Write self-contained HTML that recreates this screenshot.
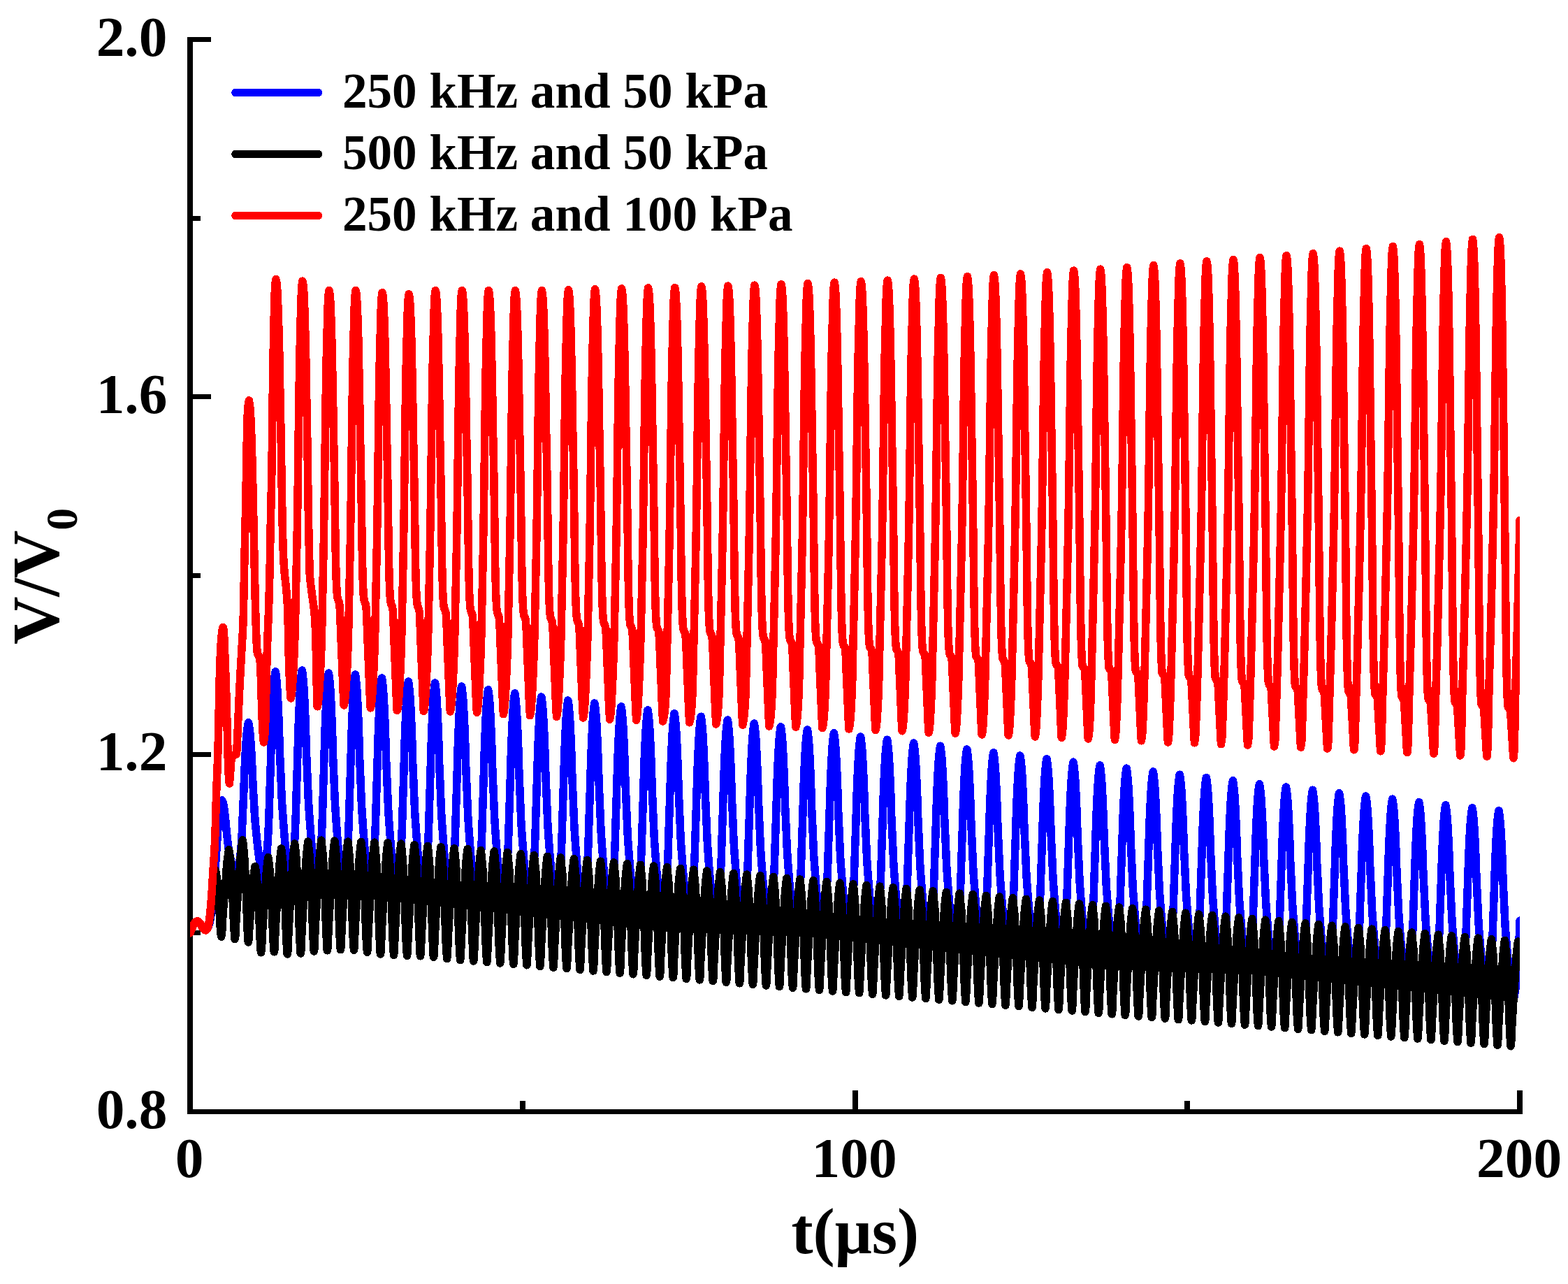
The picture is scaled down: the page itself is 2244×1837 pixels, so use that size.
<!DOCTYPE html>
<html lang="en"><head><meta charset="utf-8"><title>V/V0 vs t</title>
<style>
html,body{margin:0;padding:0;background:#fff;}
body{width:2244px;height:1837px;overflow:hidden;}
svg{display:block;}
text{font-family:"Liberation Serif",serif;font-weight:bold;fill:#000;}
.tick{font-size:81.4px;}
.leg{font-size:71.2px;}
.ttl{font-size:93.5px;}
.yttl{font-size:94.8px;}
</style></head><body>
<svg width="2244" height="1837" viewBox="0 0 2244 1837">
<rect width="2244" height="1837" fill="#fff"/>
<g fill="#000" shape-rendering="crispEdges">
<rect x="268" y="53" width="8" height="1541"/>
<rect x="268" y="1587" width="1911" height="7"/>
<rect x="276" y="1587.0" width="26" height="7"/>
<rect x="276" y="1331.3" width="11" height="7"/>
<rect x="276" y="1075.7" width="26" height="7"/>
<rect x="276" y="820.0" width="11" height="7"/>
<rect x="276" y="564.3" width="26" height="7"/>
<rect x="276" y="308.7" width="11" height="7"/>
<rect x="276" y="53.0" width="26" height="7"/>
<rect x="268.0" y="1560.0" width="8" height="27"/>
<rect x="743.8" y="1575.0" width="8" height="12"/>
<rect x="1219.5" y="1560.0" width="8" height="27"/>
<rect x="1695.2" y="1575.0" width="8" height="12"/>
<rect x="2171.0" y="1560.0" width="8" height="27"/>
</g>
<defs><clipPath id="plotclip"><rect x="272" y="56.5" width="1903" height="1534"/></clipPath></defs>
<g clip-path="url(#plotclip)" fill="none" stroke-width="11.5" stroke-linejoin="round" stroke-linecap="round" shape-rendering="crispEdges">
<polyline stroke="#0000ff" points="272.00,1334.8 272.95,1332.6 273.90,1330.4 274.85,1328.3 275.81,1326.1 276.76,1323.7 277.71,1321.7 278.66,1320.3 279.61,1319.3 280.56,1318.5 281.51,1318.0 282.47,1317.8 283.42,1318.1 284.37,1318.9 285.32,1319.8 286.27,1320.8 287.22,1322.4 288.18,1324.3 289.13,1326.2 290.08,1327.6 291.03,1328.7 291.98,1329.7 292.93,1330.5 293.88,1330.9 294.84,1330.9 295.79,1330.0 296.74,1328.7 297.69,1327.2 298.64,1324.9 299.59,1321.7 300.55,1317.8 301.50,1312.3 302.45,1305.0 303.40,1296.9 304.35,1288.0 305.30,1278.0 306.25,1267.1 307.21,1255.4 308.16,1242.3 309.11,1228.1 310.06,1214.1 311.01,1199.6 311.96,1185.2 312.91,1172.9 313.87,1163.1 314.82,1154.9 315.77,1149.9 316.72,1146.6 317.80,1145.0 318.62,1146.7 319.57,1150.1 320.53,1154.7 321.48,1161.6 322.43,1169.6 323.38,1180.0 324.33,1191.0 325.28,1198.3 326.24,1207.7 327.19,1214.7 328.14,1219.8 329.09,1224.7 330.04,1229.4 330.99,1233.7 331.94,1237.5 332.90,1241.0 333.85,1244.3 334.80,1247.6 335.75,1250.9 336.70,1253.7 337.65,1256.0 338.11,1256.9 338.61,1255.5 339.56,1252.2 340.51,1248.0 341.46,1242.6 342.41,1236.1 343.36,1228.8 344.31,1220.0 345.27,1208.8 346.22,1193.0 347.17,1170.6 348.12,1148.8 349.07,1125.9 350.02,1100.8 350.97,1081.0 351.93,1065.2 352.88,1052.0 353.83,1043.3 354.78,1036.6 355.50,1033.8 356.68,1039.4 357.63,1046.9 358.59,1057.2 359.54,1071.6 360.49,1088.3 361.44,1110.8 362.39,1130.0 363.34,1144.7 364.30,1163.5 365.25,1176.4 366.20,1186.3 367.15,1196.0 368.10,1205.2 369.05,1213.7 370.00,1221.3 370.96,1228.1 371.91,1234.6 372.86,1241.2 373.81,1247.7 374.76,1253.4 375.71,1258.0 376.34,1260.5 377.62,1255.4 378.57,1250.2 379.52,1243.5 380.47,1235.4 381.42,1226.1 382.37,1215.4 383.33,1202.1 384.28,1184.0 385.23,1159.1 386.18,1128.1 387.13,1099.9 388.08,1068.2 389.03,1037.6 389.99,1014.5 390.94,995.0 391.89,980.2 392.84,969.9 393.79,962.5 394.20,960.8 394.74,963.4 395.69,971.6 396.65,982.7 397.60,999.2 398.55,1019.8 399.50,1044.9 400.45,1077.5 401.40,1097.9 402.36,1121.1 403.31,1143.7 404.26,1158.6 405.21,1171.7 406.16,1184.6 407.11,1196.7 408.06,1207.5 409.02,1217.2 409.97,1226.2 410.92,1235.0 411.87,1243.9 412.82,1252.2 413.77,1258.9 414.70,1264.2 415.68,1260.3 416.63,1255.2 417.58,1248.8 418.53,1240.7 419.48,1231.4 420.43,1220.7 421.39,1207.5 422.34,1190.0 423.29,1165.8 424.24,1133.4 425.19,1104.5 426.14,1072.0 427.09,1039.6 428.05,1015.2 429.00,994.9 429.95,979.2 430.90,968.5 431.85,960.8 432.26,959.0 432.80,961.7 433.75,970.0 434.71,981.2 435.66,998.1 436.61,1019.0 437.56,1044.6 438.51,1077.8 439.46,1098.6 440.42,1122.2 441.37,1145.1 442.32,1160.3 443.27,1173.7 444.22,1186.8 445.17,1199.1 446.12,1210.1 447.08,1220.0 448.03,1229.1 448.98,1238.1 449.93,1247.2 450.88,1255.7 451.83,1262.5 452.76,1267.8 453.74,1264.0 454.69,1258.9 455.64,1252.4 456.59,1244.4 457.54,1235.1 458.49,1224.4 459.45,1211.3 460.40,1193.8 461.35,1169.6 462.30,1137.2 463.25,1108.3 464.20,1075.9 465.15,1043.6 466.11,1019.2 467.06,998.9 468.01,983.3 468.96,972.6 469.91,964.9 470.32,963.0 470.86,965.8 471.81,974.1 472.77,985.3 473.72,1002.1 474.67,1023.1 475.62,1048.6 476.57,1081.7 477.52,1102.5 478.48,1126.1 479.43,1149.0 480.38,1164.1 481.33,1177.4 482.28,1190.6 483.23,1202.9 484.18,1213.8 485.14,1223.7 486.09,1232.8 487.04,1241.8 487.99,1250.9 488.94,1259.3 489.89,1266.2 490.82,1271.5 491.80,1267.6 492.75,1262.5 493.70,1256.0 494.65,1247.9 495.60,1238.6 496.55,1227.8 497.51,1214.6 498.46,1197.0 499.41,1172.7 500.36,1140.2 501.31,1111.1 502.26,1078.6 503.21,1046.0 504.17,1021.5 505.12,1001.1 506.07,985.4 507.02,974.6 507.97,966.9 508.38,965.0 508.92,967.8 509.88,976.2 510.83,987.4 511.78,1004.3 512.73,1025.4 513.68,1051.0 514.63,1084.3 515.58,1105.2 516.54,1128.9 517.49,1152.0 518.44,1167.2 519.39,1180.6 520.34,1193.8 521.29,1206.1 522.24,1217.2 523.20,1227.1 524.15,1236.3 525.10,1245.3 526.05,1254.4 527.00,1262.9 527.95,1269.8 528.88,1275.1 529.86,1271.3 530.81,1266.2 531.76,1259.7 532.71,1251.6 533.66,1242.4 534.61,1231.7 535.57,1218.5 536.52,1201.0 537.47,1176.8 538.42,1144.4 539.37,1115.5 540.32,1083.1 541.27,1050.7 542.23,1026.3 543.18,1006.0 544.13,990.3 545.08,979.6 546.03,971.9 546.44,970.0 546.98,972.8 547.93,981.1 548.89,992.3 549.84,1009.2 550.79,1030.1 551.74,1055.6 552.69,1088.8 553.64,1109.6 554.60,1133.2 555.55,1156.1 556.50,1171.3 557.45,1184.6 558.40,1197.8 559.35,1210.1 560.30,1221.1 561.26,1230.9 562.21,1240.1 563.16,1249.0 564.11,1258.2 565.06,1266.6 566.01,1273.4 566.94,1278.8 567.92,1274.9 568.87,1269.9 569.82,1263.4 570.77,1255.4 571.72,1246.2 572.67,1235.5 573.63,1222.4 574.58,1205.0 575.53,1180.8 576.48,1148.6 577.43,1119.8 578.38,1087.5 579.33,1055.2 580.29,1031.0 581.24,1010.7 582.19,995.1 583.14,984.5 584.09,976.8 584.50,975.0 585.04,977.6 586.00,986.0 586.95,997.1 587.90,1013.9 588.85,1034.8 589.80,1060.2 590.75,1093.2 591.70,1113.9 592.66,1137.5 593.61,1160.3 594.56,1175.4 595.51,1188.7 596.46,1201.8 597.41,1214.0 598.36,1225.0 599.32,1234.8 600.27,1243.9 601.22,1252.8 602.17,1261.9 603.12,1270.3 604.07,1277.1 605.00,1282.4 605.98,1278.5 606.93,1273.5 607.88,1267.0 608.83,1258.9 609.78,1249.6 610.73,1238.9 611.69,1225.8 612.64,1208.2 613.59,1184.0 614.54,1151.6 615.49,1122.6 616.44,1090.2 617.39,1057.8 618.35,1033.3 619.30,1013.0 620.25,997.3 621.20,986.6 622.15,978.9 622.56,977.0 623.10,979.8 624.06,988.1 625.01,999.4 625.96,1016.2 626.91,1037.2 627.86,1062.7 628.81,1095.9 629.76,1116.7 630.72,1140.4 631.67,1163.3 632.62,1178.5 633.57,1191.8 634.52,1205.0 635.47,1217.3 636.42,1228.3 637.38,1238.2 638.33,1247.3 639.28,1256.3 640.23,1265.4 641.18,1273.9 642.13,1280.7 643.06,1286.1 644.04,1282.2 644.99,1277.1 645.94,1270.7 646.89,1262.7 647.84,1253.4 648.79,1242.8 649.75,1229.7 650.70,1212.2 651.65,1188.1 652.60,1155.8 653.55,1127.0 654.50,1094.7 655.45,1062.4 656.41,1038.1 657.36,1017.9 658.31,1002.2 659.26,991.6 660.21,983.9 660.62,982.0 661.16,984.7 662.12,993.1 663.07,1004.3 664.02,1021.0 664.97,1041.9 665.92,1067.4 666.87,1100.4 667.82,1121.1 668.78,1144.7 669.73,1167.5 670.68,1182.6 671.63,1195.9 672.58,1209.0 673.53,1221.3 674.48,1232.2 675.44,1242.0 676.39,1251.2 677.34,1260.1 678.29,1269.2 679.24,1277.6 680.19,1284.4 681.12,1289.7 682.10,1285.9 683.05,1280.8 684.00,1274.4 684.95,1266.4 685.90,1257.2 686.85,1246.6 687.81,1233.5 688.76,1216.1 689.71,1192.1 690.66,1159.9 691.61,1131.2 692.56,1099.0 693.51,1066.8 694.47,1042.6 695.42,1022.4 696.37,1006.9 697.32,996.2 698.27,988.6 698.68,986.8 699.22,989.4 700.17,997.7 701.13,1008.9 702.08,1025.6 703.03,1046.4 703.98,1071.8 704.93,1104.7 705.88,1125.3 706.84,1148.8 707.79,1171.6 708.74,1186.6 709.69,1199.9 710.64,1212.9 711.59,1225.1 712.54,1236.1 713.50,1245.8 714.45,1254.9 715.40,1263.8 716.35,1272.9 717.30,1281.3 718.25,1288.1 719.18,1293.4 720.16,1289.5 721.11,1284.5 722.06,1278.1 723.01,1270.1 723.96,1261.0 724.91,1250.4 725.87,1237.4 726.82,1220.1 727.77,1196.1 728.72,1164.1 729.67,1135.5 730.62,1103.5 731.57,1071.5 732.53,1047.3 733.48,1027.3 734.43,1011.8 735.38,1001.2 736.33,993.6 736.74,991.8 737.28,994.4 738.24,1002.7 739.19,1013.8 740.14,1030.4 741.09,1051.1 742.04,1076.4 742.99,1109.2 743.94,1129.7 744.90,1153.1 745.85,1175.8 746.80,1190.8 747.75,1203.9 748.70,1216.9 749.65,1229.1 750.60,1240.0 751.56,1249.7 752.51,1258.7 753.46,1267.6 754.41,1276.6 755.36,1285.0 756.31,1291.7 757.24,1297.0 758.22,1293.2 759.17,1288.2 760.12,1281.8 761.07,1273.9 762.02,1264.8 762.97,1254.3 763.93,1241.3 764.88,1224.1 765.83,1200.3 766.78,1168.4 767.73,1140.0 768.68,1108.1 769.63,1076.2 770.59,1052.3 771.54,1032.3 772.49,1016.9 773.44,1006.3 774.39,998.8 774.80,997.0 775.34,999.6 776.30,1007.8 777.25,1018.9 778.20,1035.4 779.15,1056.0 780.10,1081.2 781.05,1113.8 782.00,1134.2 782.96,1157.5 783.91,1180.0 784.86,1195.0 785.81,1208.0 786.76,1221.0 787.71,1233.1 788.66,1243.9 789.62,1253.6 790.57,1262.6 791.52,1271.4 792.47,1280.4 793.42,1288.7 794.37,1295.4 795.30,1300.7 796.28,1296.9 797.23,1291.9 798.18,1285.6 799.13,1277.7 800.08,1268.6 801.03,1258.1 801.99,1245.2 802.94,1228.1 803.89,1204.4 804.84,1172.6 805.79,1144.3 806.74,1112.6 807.69,1080.9 808.65,1057.0 809.60,1037.1 810.55,1021.8 811.50,1011.3 812.45,1003.8 812.86,1002.0 813.40,1004.6 814.36,1012.8 815.31,1023.8 816.26,1040.3 817.21,1060.8 818.16,1085.8 819.11,1118.3 820.06,1138.6 821.02,1161.8 821.97,1184.2 822.92,1199.1 823.87,1212.1 824.82,1225.0 825.77,1237.0 826.72,1247.8 827.68,1257.4 828.63,1266.4 829.58,1275.2 830.53,1284.1 831.48,1292.4 832.43,1299.1 833.36,1304.3 834.34,1300.5 835.29,1295.5 836.24,1289.2 837.19,1281.3 838.14,1272.3 839.09,1261.8 840.05,1248.9 841.00,1231.8 841.95,1208.1 842.90,1176.4 843.85,1148.2 844.80,1116.5 845.75,1084.8 846.71,1060.9 847.66,1041.1 848.61,1025.8 849.56,1015.3 850.51,1007.8 850.92,1006.0 851.46,1008.6 852.41,1016.8 853.37,1027.7 854.32,1044.2 855.27,1064.7 856.22,1089.7 857.17,1122.1 858.12,1142.5 859.08,1165.6 860.03,1188.0 860.98,1202.8 861.93,1215.9 862.88,1228.7 863.83,1240.8 864.78,1251.5 865.74,1261.1 866.69,1270.1 867.64,1278.9 868.59,1287.8 869.54,1296.1 870.49,1302.7 871.42,1308.0 872.40,1304.2 873.35,1299.2 874.30,1292.9 875.25,1285.1 876.20,1276.1 877.15,1265.6 878.11,1252.8 879.06,1235.8 880.01,1212.2 880.96,1180.7 881.91,1152.5 882.86,1121.0 883.81,1089.4 884.77,1065.7 885.72,1045.9 886.67,1030.7 887.62,1020.2 888.57,1012.7 888.98,1011.0 889.52,1013.6 890.48,1021.7 891.43,1032.7 892.38,1049.0 893.33,1069.4 894.28,1094.3 895.23,1126.6 896.18,1146.8 897.14,1169.8 898.09,1192.2 899.04,1207.0 899.99,1219.9 900.94,1232.7 901.89,1244.7 902.84,1255.4 903.80,1265.0 904.75,1273.9 905.70,1282.6 906.65,1291.5 907.60,1299.8 908.55,1306.4 909.48,1311.6 910.46,1307.8 911.41,1302.9 912.36,1296.6 913.31,1288.8 914.26,1279.8 915.21,1269.5 916.17,1256.7 917.12,1239.8 918.07,1216.3 919.02,1184.9 919.97,1156.9 920.92,1125.5 921.87,1094.1 922.83,1070.4 923.78,1050.8 924.73,1035.6 925.68,1025.2 926.63,1017.7 927.04,1016.0 927.58,1018.6 928.53,1026.7 929.49,1037.6 930.44,1053.9 931.39,1074.2 932.34,1098.9 933.29,1131.1 934.24,1151.2 935.20,1174.1 936.15,1196.4 937.10,1211.1 938.05,1224.0 939.00,1236.7 939.95,1248.7 940.90,1259.3 941.86,1268.8 942.81,1277.7 943.76,1286.4 944.71,1295.3 945.66,1303.5 946.61,1310.1 947.54,1315.2 948.52,1311.5 949.47,1306.6 950.42,1300.4 951.37,1292.6 952.32,1283.6 953.27,1273.3 954.23,1260.6 955.18,1243.7 956.13,1220.3 957.08,1189.0 958.03,1161.1 958.98,1129.8 959.93,1098.6 960.89,1075.0 961.84,1055.4 962.79,1040.3 963.74,1030.0 964.69,1022.5 965.10,1020.8 965.64,1023.4 966.60,1031.4 967.55,1042.3 968.50,1058.5 969.45,1078.8 970.40,1103.4 971.35,1135.4 972.30,1155.5 973.26,1178.3 974.21,1200.5 975.16,1215.1 976.11,1228.0 977.06,1240.7 978.01,1252.6 978.96,1263.2 979.92,1272.7 980.87,1281.5 981.82,1290.2 982.77,1299.0 983.72,1307.1 984.67,1313.7 985.60,1318.9 986.58,1315.2 987.53,1310.3 988.48,1304.0 989.43,1296.3 990.38,1287.4 991.33,1277.1 992.29,1264.4 993.24,1247.5 994.19,1224.2 995.14,1193.1 996.09,1165.2 997.04,1134.0 997.99,1102.8 998.95,1079.4 999.90,1059.8 1000.85,1044.8 1001.80,1034.4 1002.75,1027.0 1003.16,1025.2 1003.70,1027.9 1004.65,1035.9 1005.61,1046.7 1006.56,1062.9 1007.51,1083.1 1008.46,1107.7 1009.41,1139.6 1010.36,1159.6 1011.32,1182.4 1012.27,1204.4 1013.22,1219.1 1014.17,1231.9 1015.12,1244.6 1016.07,1256.4 1017.02,1267.0 1017.98,1276.4 1018.93,1285.3 1019.88,1293.9 1020.83,1302.7 1021.78,1310.8 1022.73,1317.4 1023.66,1322.5 1024.64,1318.8 1025.59,1313.9 1026.54,1307.7 1027.49,1300.0 1028.44,1291.1 1029.39,1280.8 1030.35,1268.2 1031.30,1251.4 1032.25,1228.2 1033.20,1197.2 1034.15,1169.4 1035.10,1138.3 1036.05,1107.3 1037.01,1083.9 1037.96,1064.4 1038.91,1049.4 1039.86,1039.1 1040.81,1031.7 1041.22,1030.0 1041.76,1032.5 1042.72,1040.6 1043.67,1051.3 1044.62,1067.5 1045.57,1087.6 1046.52,1112.1 1047.47,1143.9 1048.42,1163.8 1049.38,1186.5 1050.33,1208.5 1051.28,1223.1 1052.23,1235.8 1053.18,1248.5 1054.13,1260.3 1055.08,1270.8 1056.04,1280.3 1056.99,1289.0 1057.94,1297.6 1058.89,1306.4 1059.84,1314.5 1060.79,1321.1 1061.72,1326.2 1062.70,1322.5 1063.65,1317.6 1064.60,1311.5 1065.55,1303.8 1066.50,1294.9 1067.45,1284.7 1068.41,1272.1 1069.36,1255.4 1070.31,1232.3 1071.26,1201.4 1072.21,1173.8 1073.16,1142.8 1074.11,1111.9 1075.07,1088.6 1076.02,1069.2 1076.97,1054.3 1077.92,1044.1 1078.87,1036.7 1079.28,1035.0 1079.82,1037.5 1080.78,1045.5 1081.73,1056.2 1082.68,1072.3 1083.63,1092.3 1084.58,1116.7 1085.53,1148.4 1086.48,1168.2 1087.44,1190.8 1088.39,1212.7 1089.34,1227.2 1090.29,1239.9 1091.24,1252.5 1092.19,1264.2 1093.14,1274.7 1094.10,1284.1 1095.05,1292.9 1096.00,1301.4 1096.95,1310.1 1097.90,1318.2 1098.85,1324.7 1099.78,1329.8 1100.76,1326.1 1101.71,1321.3 1102.66,1315.2 1103.61,1307.5 1104.56,1298.7 1105.51,1288.5 1106.47,1276.0 1107.42,1259.3 1108.37,1236.3 1109.32,1205.5 1110.27,1178.0 1111.22,1147.2 1112.17,1116.4 1113.13,1093.2 1114.08,1073.9 1115.03,1059.0 1115.98,1048.8 1116.93,1041.5 1117.34,1039.8 1117.88,1042.3 1118.84,1050.3 1119.79,1061.0 1120.74,1077.0 1121.69,1096.9 1122.64,1121.2 1123.59,1152.7 1124.54,1172.5 1125.50,1195.0 1126.45,1216.8 1127.40,1231.2 1128.35,1243.9 1129.30,1256.4 1130.25,1268.1 1131.20,1278.6 1132.16,1287.9 1133.11,1296.7 1134.06,1305.2 1135.01,1313.9 1135.96,1321.9 1136.91,1328.4 1137.84,1333.5 1138.82,1329.8 1139.77,1325.0 1140.72,1318.8 1141.67,1311.2 1142.62,1302.4 1143.57,1292.2 1144.53,1279.8 1145.48,1263.2 1146.43,1240.2 1147.38,1209.4 1148.33,1182.0 1149.28,1151.3 1150.23,1120.5 1151.19,1097.4 1152.14,1078.1 1153.09,1063.3 1154.04,1053.1 1154.99,1045.8 1155.40,1044.0 1155.94,1046.6 1156.89,1054.6 1157.85,1065.2 1158.80,1081.2 1159.75,1101.1 1160.70,1125.3 1161.65,1156.8 1162.60,1176.5 1163.56,1198.9 1164.51,1220.7 1165.46,1235.1 1166.41,1247.8 1167.36,1260.3 1168.31,1271.9 1169.26,1282.3 1170.22,1291.7 1171.17,1300.4 1172.12,1308.9 1173.07,1317.6 1174.02,1325.6 1174.97,1332.1 1175.90,1337.1 1176.88,1333.4 1177.83,1328.7 1178.78,1322.5 1179.73,1314.9 1180.68,1306.2 1181.63,1296.0 1182.59,1283.6 1183.54,1267.1 1184.49,1244.2 1185.44,1213.5 1186.39,1186.2 1187.34,1155.6 1188.29,1125.0 1189.25,1101.9 1190.20,1082.7 1191.15,1067.9 1192.10,1057.8 1193.05,1050.5 1193.46,1048.8 1194.00,1051.3 1194.95,1059.2 1195.91,1069.8 1196.86,1085.7 1197.81,1105.6 1198.76,1129.7 1199.71,1161.1 1200.66,1180.7 1201.62,1203.1 1202.57,1224.8 1203.52,1239.1 1204.47,1251.7 1205.42,1264.2 1206.37,1275.8 1207.32,1286.2 1208.28,1295.5 1209.23,1304.2 1210.18,1312.6 1211.13,1321.3 1212.08,1329.3 1213.03,1335.7 1213.96,1340.8 1214.94,1337.1 1215.89,1332.3 1216.84,1326.3 1217.79,1318.7 1218.74,1310.0 1219.69,1299.9 1220.65,1287.5 1221.60,1271.1 1222.55,1248.3 1223.50,1217.9 1224.45,1190.7 1225.40,1160.2 1226.35,1129.7 1227.31,1106.8 1228.26,1087.7 1229.21,1073.0 1230.16,1062.9 1231.11,1055.7 1231.52,1054.0 1232.06,1056.5 1233.01,1064.4 1233.97,1074.9 1234.92,1090.8 1235.87,1110.5 1236.82,1134.5 1237.77,1165.7 1238.72,1185.2 1239.68,1207.5 1240.63,1229.0 1241.58,1243.3 1242.53,1255.8 1243.48,1268.2 1244.43,1279.8 1245.38,1290.1 1246.34,1299.4 1247.29,1308.0 1248.24,1316.4 1249.19,1325.0 1250.14,1333.0 1251.09,1339.4 1252.02,1344.4 1253.00,1340.8 1253.95,1336.0 1254.90,1329.9 1255.85,1322.4 1256.80,1313.7 1257.75,1303.6 1258.71,1291.3 1259.66,1274.9 1260.61,1252.2 1261.56,1221.8 1262.51,1194.7 1263.46,1164.2 1264.41,1133.9 1265.37,1111.0 1266.32,1092.0 1267.27,1077.3 1268.22,1067.2 1269.17,1060.0 1269.58,1058.2 1270.12,1060.8 1271.08,1068.6 1272.03,1079.2 1272.98,1095.0 1273.93,1114.6 1274.88,1138.6 1275.83,1169.7 1276.78,1189.2 1277.74,1211.4 1278.69,1232.9 1279.64,1247.2 1280.59,1259.7 1281.54,1272.0 1282.49,1283.6 1283.44,1293.9 1284.40,1303.1 1285.35,1311.7 1286.30,1320.1 1287.25,1328.7 1288.20,1336.6 1289.15,1343.0 1290.08,1348.1 1291.06,1344.4 1292.01,1339.7 1292.96,1333.6 1293.91,1326.1 1294.86,1317.5 1295.81,1307.4 1296.77,1295.2 1297.72,1278.8 1298.67,1256.2 1299.62,1225.9 1300.57,1198.9 1301.52,1168.6 1302.47,1138.4 1303.43,1115.6 1304.38,1096.6 1305.33,1082.0 1306.28,1072.0 1307.23,1064.8 1307.64,1063.0 1308.18,1065.6 1309.13,1073.4 1310.09,1083.9 1311.04,1099.6 1311.99,1119.2 1312.94,1143.1 1313.89,1174.1 1314.84,1193.5 1315.80,1215.6 1316.75,1237.0 1317.70,1251.2 1318.65,1263.7 1319.60,1276.0 1320.55,1287.5 1321.50,1297.8 1322.46,1307.0 1323.41,1315.5 1324.36,1323.9 1325.31,1332.4 1326.26,1340.3 1327.21,1346.7 1328.14,1351.7 1329.12,1348.1 1330.07,1343.3 1331.02,1337.3 1331.97,1329.8 1332.92,1321.1 1333.87,1311.2 1334.83,1298.9 1335.78,1282.6 1336.73,1260.0 1337.68,1229.8 1338.63,1202.8 1339.58,1172.5 1340.53,1142.3 1341.49,1119.6 1342.44,1100.7 1343.39,1086.1 1344.34,1076.1 1345.29,1068.9 1345.70,1067.2 1346.24,1069.7 1347.19,1077.5 1348.15,1088.0 1349.10,1103.7 1350.05,1123.2 1351.00,1147.1 1351.95,1178.0 1352.90,1197.4 1353.86,1219.5 1354.81,1240.9 1355.76,1255.0 1356.71,1267.5 1357.66,1279.8 1358.61,1291.2 1359.56,1301.5 1360.52,1310.7 1361.47,1319.2 1362.42,1327.6 1363.37,1336.1 1364.32,1344.0 1365.27,1350.4 1366.20,1355.4 1367.18,1351.7 1368.13,1347.0 1369.08,1341.0 1370.03,1333.5 1370.98,1324.9 1371.93,1315.0 1372.89,1302.8 1373.84,1286.5 1374.79,1264.0 1375.74,1233.9 1376.69,1207.1 1377.64,1177.0 1378.59,1146.9 1379.55,1124.3 1380.50,1105.4 1381.45,1090.9 1382.40,1080.9 1383.35,1073.8 1383.76,1072.0 1384.30,1074.6 1385.26,1082.3 1386.21,1092.8 1387.16,1108.4 1388.11,1127.9 1389.06,1151.6 1390.01,1182.4 1390.96,1201.8 1391.92,1223.7 1392.87,1245.0 1393.82,1259.1 1394.77,1271.5 1395.72,1283.7 1396.67,1295.2 1397.62,1305.4 1398.58,1314.5 1399.53,1323.0 1400.48,1331.4 1401.43,1339.8 1402.38,1347.7 1403.33,1354.0 1404.26,1359.0 1405.24,1355.4 1406.19,1350.7 1407.14,1344.7 1408.09,1337.3 1409.04,1328.7 1409.99,1318.8 1410.95,1306.6 1411.90,1290.4 1412.85,1268.0 1413.80,1238.1 1414.75,1211.3 1415.70,1181.4 1416.65,1151.4 1417.61,1128.9 1418.56,1110.1 1419.51,1095.6 1420.46,1085.7 1421.41,1078.6 1421.82,1076.8 1422.36,1079.4 1423.32,1087.1 1424.27,1097.5 1425.22,1113.1 1426.17,1132.5 1427.12,1156.1 1428.07,1186.8 1429.02,1206.0 1429.98,1227.9 1430.93,1249.1 1431.88,1263.2 1432.83,1275.5 1433.78,1287.7 1434.73,1299.1 1435.68,1309.2 1436.64,1318.3 1437.59,1326.8 1438.54,1335.1 1439.49,1343.6 1440.44,1351.4 1441.39,1357.7 1442.32,1362.6 1443.30,1359.1 1444.25,1354.4 1445.20,1348.4 1446.15,1340.9 1447.10,1332.4 1448.05,1322.5 1449.01,1310.4 1449.96,1294.2 1450.91,1271.8 1451.86,1241.9 1452.81,1215.2 1453.76,1185.3 1454.71,1155.4 1455.67,1132.9 1456.62,1114.1 1457.57,1099.7 1458.52,1089.8 1459.47,1082.7 1459.88,1081.0 1460.42,1083.4 1461.38,1091.2 1462.33,1101.5 1463.28,1117.1 1464.23,1136.5 1465.18,1160.1 1466.13,1190.7 1467.08,1209.9 1468.04,1231.8 1468.99,1252.9 1469.94,1267.0 1470.89,1279.3 1471.84,1291.5 1472.79,1302.8 1473.74,1313.0 1474.70,1322.1 1475.65,1330.5 1476.60,1338.8 1477.55,1347.2 1478.50,1355.1 1479.45,1361.4 1480.38,1366.3 1481.36,1362.7 1482.31,1358.1 1483.26,1352.1 1484.21,1344.7 1485.16,1336.2 1486.11,1326.3 1487.07,1314.2 1488.02,1298.1 1488.97,1275.9 1489.92,1246.1 1490.87,1219.5 1491.82,1189.7 1492.77,1160.0 1493.73,1137.5 1494.68,1118.9 1495.63,1104.5 1496.58,1094.6 1497.53,1087.5 1497.94,1085.8 1498.48,1088.3 1499.43,1096.0 1500.39,1106.4 1501.34,1121.8 1502.29,1141.1 1503.24,1164.6 1504.19,1195.1 1505.14,1214.3 1506.10,1236.0 1507.05,1257.1 1508.00,1271.1 1508.95,1283.3 1509.90,1295.4 1510.85,1306.7 1511.80,1316.8 1512.76,1325.9 1513.71,1334.3 1514.66,1342.6 1515.61,1351.0 1516.56,1358.7 1517.51,1365.0 1518.44,1369.9 1519.42,1366.4 1520.37,1361.7 1521.32,1355.8 1522.27,1348.4 1523.22,1339.9 1524.17,1330.1 1525.13,1318.0 1526.08,1302.0 1527.03,1279.7 1527.98,1250.0 1528.93,1223.5 1529.88,1193.8 1530.83,1164.1 1531.79,1141.7 1532.74,1123.1 1533.69,1108.7 1534.64,1098.9 1535.59,1091.8 1536.00,1090.2 1536.54,1092.6 1537.49,1100.3 1538.45,1110.6 1539.40,1126.1 1540.35,1145.3 1541.30,1168.7 1542.25,1199.2 1543.20,1218.3 1544.16,1240.0 1545.11,1261.0 1546.06,1274.9 1547.01,1287.2 1547.96,1299.2 1548.91,1310.5 1549.86,1320.6 1550.82,1329.6 1551.77,1338.1 1552.72,1346.3 1553.67,1354.7 1554.62,1362.4 1555.57,1368.7 1556.50,1373.6 1557.48,1370.0 1558.43,1365.4 1559.38,1359.5 1560.33,1352.1 1561.28,1343.7 1562.23,1333.9 1563.19,1321.9 1564.14,1305.9 1565.09,1283.8 1566.04,1254.2 1566.99,1227.8 1567.94,1198.2 1568.89,1168.6 1569.85,1146.3 1570.80,1127.8 1571.75,1113.5 1572.70,1103.7 1573.65,1096.6 1574.06,1095.0 1574.60,1097.4 1575.56,1105.1 1576.51,1115.3 1577.46,1130.7 1578.41,1149.9 1579.36,1173.2 1580.31,1203.5 1581.26,1222.5 1582.22,1244.1 1583.17,1265.1 1584.12,1279.0 1585.07,1291.2 1586.02,1303.2 1586.97,1314.4 1587.92,1324.5 1588.88,1333.5 1589.83,1341.8 1590.78,1350.0 1591.73,1358.4 1592.68,1366.1 1593.63,1372.3 1594.56,1377.2 1595.54,1373.7 1596.49,1369.1 1597.44,1363.2 1598.39,1355.8 1599.34,1347.4 1600.29,1337.6 1601.25,1325.6 1602.20,1309.7 1603.15,1287.6 1604.10,1258.1 1605.05,1231.8 1606.00,1202.2 1606.95,1172.7 1607.91,1150.5 1608.86,1132.0 1609.81,1117.7 1610.76,1107.9 1611.71,1100.9 1612.12,1099.2 1612.66,1101.7 1613.62,1109.3 1614.57,1119.6 1615.52,1134.9 1616.47,1154.0 1617.42,1177.3 1618.37,1207.6 1619.32,1226.5 1620.28,1248.1 1621.23,1269.0 1622.18,1282.9 1623.13,1295.0 1624.08,1307.0 1625.03,1318.2 1625.98,1328.2 1626.94,1337.2 1627.89,1345.6 1628.84,1353.7 1629.79,1362.1 1630.74,1369.8 1631.69,1376.0 1632.62,1380.9 1633.60,1377.3 1634.55,1372.7 1635.50,1366.9 1636.45,1359.5 1637.40,1351.1 1638.35,1341.4 1639.31,1329.5 1640.26,1313.6 1641.21,1291.6 1642.16,1262.2 1643.11,1236.0 1644.06,1206.5 1645.01,1177.1 1645.97,1155.0 1646.92,1136.6 1647.87,1122.3 1648.82,1112.6 1649.77,1105.6 1650.18,1104.0 1650.72,1106.4 1651.67,1114.0 1652.63,1124.2 1653.58,1139.5 1654.53,1158.5 1655.48,1181.7 1656.43,1211.9 1657.38,1230.8 1658.34,1252.2 1659.29,1273.1 1660.24,1286.9 1661.19,1299.0 1662.14,1310.9 1663.09,1322.1 1664.04,1332.1 1665.00,1341.0 1665.95,1349.4 1666.90,1357.5 1667.85,1365.8 1668.80,1373.5 1669.75,1379.7 1670.68,1384.5 1671.66,1381.0 1672.61,1376.4 1673.56,1370.6 1674.51,1363.2 1675.46,1354.9 1676.41,1345.2 1677.37,1333.2 1678.32,1317.4 1679.27,1295.5 1680.22,1266.1 1681.17,1239.9 1682.12,1210.6 1683.07,1181.3 1684.03,1159.2 1684.98,1140.8 1685.93,1126.6 1686.88,1116.9 1687.83,1109.9 1688.24,1108.2 1688.78,1110.7 1689.73,1118.3 1690.69,1128.5 1691.64,1143.7 1692.59,1162.7 1693.54,1185.9 1694.49,1215.9 1695.44,1234.8 1696.40,1256.2 1697.35,1277.0 1698.30,1290.7 1699.25,1302.8 1700.20,1314.8 1701.15,1325.9 1702.10,1335.9 1703.06,1344.8 1704.01,1353.1 1704.96,1361.2 1705.91,1369.5 1706.86,1377.1 1707.81,1383.3 1708.74,1388.2 1709.72,1384.7 1710.67,1380.1 1711.62,1374.2 1712.57,1366.9 1713.52,1358.6 1714.47,1348.9 1715.43,1337.0 1716.38,1321.2 1717.33,1299.3 1718.28,1270.1 1719.23,1243.9 1720.18,1214.6 1721.13,1185.4 1722.09,1163.4 1723.04,1145.0 1723.99,1130.9 1724.94,1121.2 1725.89,1114.2 1726.30,1112.5 1726.84,1115.0 1727.80,1122.6 1728.75,1132.7 1729.70,1147.9 1730.65,1166.9 1731.60,1190.0 1732.55,1220.0 1733.50,1238.8 1734.46,1260.1 1735.41,1280.9 1736.36,1294.6 1737.31,1306.7 1738.26,1318.6 1739.21,1329.7 1740.16,1339.6 1741.12,1348.5 1742.07,1356.8 1743.02,1364.9 1743.97,1373.2 1744.92,1380.8 1745.87,1387.0 1746.80,1391.8 1747.78,1388.3 1748.73,1383.7 1749.68,1377.9 1750.63,1370.6 1751.58,1362.3 1752.53,1352.6 1753.49,1340.8 1754.44,1325.0 1755.39,1303.2 1756.34,1274.0 1757.29,1247.9 1758.24,1218.7 1759.19,1189.5 1760.15,1167.5 1761.10,1149.2 1762.05,1135.1 1763.00,1125.5 1763.95,1118.5 1764.36,1116.8 1764.90,1119.3 1765.86,1126.8 1766.81,1137.0 1767.76,1152.2 1768.71,1171.1 1769.66,1194.1 1770.61,1224.0 1771.56,1242.8 1772.52,1264.1 1773.47,1284.8 1774.42,1298.5 1775.37,1310.5 1776.32,1322.4 1777.27,1333.5 1778.22,1343.4 1779.18,1352.3 1780.13,1360.5 1781.08,1368.6 1782.03,1376.9 1782.98,1384.5 1783.93,1390.6 1784.86,1395.5 1785.84,1392.0 1786.79,1387.4 1787.74,1381.6 1788.69,1374.4 1789.64,1366.1 1790.59,1356.4 1791.55,1344.6 1792.50,1328.9 1793.45,1307.2 1794.40,1278.1 1795.35,1252.2 1796.30,1223.1 1797.25,1194.0 1798.21,1172.1 1799.16,1153.9 1800.11,1139.8 1801.06,1130.2 1802.01,1123.3 1802.42,1121.7 1802.96,1124.1 1803.91,1131.6 1804.87,1141.7 1805.82,1156.8 1806.77,1175.6 1807.72,1198.6 1808.67,1228.4 1809.62,1247.1 1810.58,1268.3 1811.53,1288.9 1812.48,1302.5 1813.43,1314.5 1814.38,1326.3 1815.33,1337.4 1816.28,1347.3 1817.24,1356.1 1818.19,1364.3 1819.14,1372.4 1820.09,1380.6 1821.04,1388.2 1821.99,1394.3 1822.92,1399.1 1823.90,1395.6 1824.85,1391.1 1825.80,1385.3 1826.75,1378.1 1827.70,1369.8 1828.65,1360.2 1829.61,1348.4 1830.56,1332.7 1831.51,1311.1 1832.46,1282.0 1833.41,1256.2 1834.36,1227.1 1835.31,1198.1 1836.27,1176.3 1837.22,1158.1 1838.17,1144.1 1839.12,1134.5 1840.07,1127.6 1840.48,1126.0 1841.02,1128.4 1841.97,1135.9 1842.93,1145.9 1843.88,1161.0 1844.83,1179.8 1845.78,1202.7 1846.73,1232.4 1847.68,1251.1 1848.64,1272.2 1849.59,1292.8 1850.54,1306.4 1851.49,1318.3 1852.44,1330.2 1853.39,1341.2 1854.34,1351.0 1855.30,1359.8 1856.25,1368.1 1857.20,1376.1 1858.15,1384.3 1859.10,1391.8 1860.05,1398.0 1860.98,1402.8 1861.96,1399.3 1862.91,1394.7 1863.86,1389.0 1864.81,1381.8 1865.76,1373.5 1866.71,1363.9 1867.67,1352.2 1868.62,1336.5 1869.57,1314.9 1870.52,1286.0 1871.47,1260.1 1872.42,1231.2 1873.37,1202.3 1874.33,1180.5 1875.28,1162.3 1876.23,1148.4 1877.18,1138.8 1878.13,1131.9 1878.54,1130.2 1879.08,1132.7 1880.04,1140.1 1880.99,1150.2 1881.94,1165.2 1882.89,1184.0 1883.84,1206.8 1884.79,1236.5 1885.74,1255.1 1886.70,1276.2 1887.65,1296.7 1888.60,1310.3 1889.55,1322.2 1890.50,1334.0 1891.45,1345.0 1892.40,1354.8 1893.36,1363.6 1894.31,1371.8 1895.26,1379.8 1896.21,1388.0 1897.16,1395.5 1898.11,1401.6 1899.04,1406.4 1900.02,1402.9 1900.97,1398.4 1901.92,1392.7 1902.87,1385.5 1903.82,1377.2 1904.77,1367.7 1905.73,1356.0 1906.68,1340.4 1907.63,1318.8 1908.58,1290.0 1909.53,1264.2 1910.48,1235.4 1911.43,1206.5 1912.39,1184.8 1913.34,1166.7 1914.29,1152.8 1915.24,1143.2 1916.19,1136.4 1916.60,1134.8 1917.14,1137.2 1918.10,1144.6 1919.05,1154.6 1920.00,1169.6 1920.95,1188.3 1921.90,1211.1 1922.85,1240.6 1923.80,1259.2 1924.76,1280.2 1925.71,1300.7 1926.66,1314.2 1927.61,1326.1 1928.56,1337.8 1929.51,1348.8 1930.46,1358.6 1931.42,1367.4 1932.37,1375.5 1933.32,1383.5 1934.27,1391.7 1935.22,1399.2 1936.17,1405.3 1937.10,1410.0 1938.08,1406.6 1939.03,1402.1 1939.98,1396.3 1940.93,1389.2 1941.88,1380.9 1942.83,1371.4 1943.79,1359.8 1944.74,1344.2 1945.69,1322.7 1946.64,1293.9 1947.59,1268.2 1948.54,1239.4 1949.49,1210.7 1950.45,1189.0 1951.40,1171.0 1952.35,1157.1 1953.30,1147.5 1954.25,1140.7 1954.66,1139.0 1955.20,1141.5 1956.15,1148.9 1957.11,1158.9 1958.06,1173.8 1959.01,1192.5 1959.96,1215.2 1960.91,1244.7 1961.86,1263.2 1962.82,1284.2 1963.77,1304.6 1964.72,1318.1 1965.67,1329.9 1966.62,1341.7 1967.57,1352.6 1968.52,1362.4 1969.48,1371.1 1970.43,1379.3 1971.38,1387.2 1972.33,1395.4 1973.28,1402.9 1974.23,1408.9 1975.16,1413.7 1976.14,1410.2 1977.09,1405.7 1978.04,1400.0 1978.99,1392.9 1979.94,1384.6 1980.89,1375.1 1981.85,1363.5 1982.80,1348.0 1983.75,1326.5 1984.70,1297.8 1985.65,1272.1 1986.60,1243.4 1987.55,1214.6 1988.51,1193.0 1989.46,1175.0 1990.41,1161.1 1991.36,1151.6 1992.31,1144.8 1992.72,1143.2 1993.26,1145.6 1994.21,1153.0 1995.17,1162.9 1996.12,1177.9 1997.07,1196.5 1998.02,1219.2 1998.97,1248.6 1999.92,1267.1 2000.88,1288.1 2001.83,1308.4 2002.78,1321.9 2003.73,1333.7 2004.68,1345.4 2005.63,1356.3 2006.58,1366.1 2007.54,1374.8 2008.49,1383.0 2009.44,1390.9 2010.39,1399.0 2011.34,1406.5 2012.29,1412.6 2013.22,1417.3 2014.20,1413.9 2015.15,1409.4 2016.10,1403.7 2017.05,1396.6 2018.00,1388.4 2018.95,1378.9 2019.91,1367.3 2020.86,1351.8 2021.81,1330.4 2022.76,1301.8 2023.71,1276.2 2024.66,1247.5 2025.61,1218.9 2026.57,1197.4 2027.52,1179.4 2028.47,1165.6 2029.42,1156.1 2030.37,1149.3 2030.78,1147.7 2031.32,1150.0 2032.28,1157.4 2033.23,1167.4 2034.18,1182.3 2035.13,1200.8 2036.08,1223.4 2037.03,1252.8 2037.98,1271.2 2038.94,1292.1 2039.89,1312.4 2040.84,1325.8 2041.79,1337.6 2042.74,1349.3 2043.69,1360.2 2044.64,1369.9 2045.60,1378.6 2046.55,1386.7 2047.50,1394.7 2048.45,1402.7 2049.40,1410.2 2050.35,1416.3 2051.28,1421.0 2052.26,1417.6 2053.21,1413.1 2054.16,1407.4 2055.11,1400.2 2056.06,1392.1 2057.01,1382.6 2057.97,1371.0 2058.92,1355.6 2059.87,1334.2 2060.82,1305.6 2061.77,1280.1 2062.72,1251.5 2063.67,1222.9 2064.63,1201.4 2065.58,1183.5 2066.53,1169.6 2067.48,1160.2 2068.43,1153.4 2068.84,1151.8 2069.38,1154.1 2070.34,1161.5 2071.29,1171.4 2072.24,1186.3 2073.19,1204.8 2074.14,1227.4 2075.09,1256.7 2076.04,1275.1 2077.00,1296.0 2077.95,1316.2 2078.90,1329.7 2079.85,1341.4 2080.80,1353.1 2081.75,1363.9 2082.70,1373.6 2083.66,1382.3 2084.61,1390.4 2085.56,1398.3 2086.51,1406.4 2087.46,1413.9 2088.41,1419.9 2089.34,1424.6 2090.32,1421.2 2091.27,1416.7 2092.22,1411.0 2093.17,1403.9 2094.12,1395.8 2095.07,1386.3 2096.03,1374.7 2096.98,1359.3 2097.93,1338.0 2098.88,1309.4 2099.83,1284.0 2100.78,1255.4 2101.73,1226.9 2102.69,1205.4 2103.64,1187.5 2104.59,1173.7 2105.54,1164.3 2106.49,1157.5 2106.90,1155.8 2107.44,1158.2 2108.39,1165.6 2109.35,1175.5 2110.30,1190.4 2111.25,1208.9 2112.20,1231.4 2113.15,1260.6 2114.10,1279.0 2115.06,1299.8 2116.01,1320.1 2116.96,1333.5 2117.91,1345.2 2118.86,1356.8 2119.81,1367.7 2120.76,1377.4 2121.72,1386.0 2122.67,1394.1 2123.62,1402.0 2124.57,1410.1 2125.52,1417.5 2126.47,1423.6 2127.40,1428.3 2128.38,1424.9 2129.33,1420.4 2130.28,1414.7 2131.23,1407.6 2132.18,1399.4 2133.13,1390.0 2134.09,1378.5 2135.04,1363.1 2135.99,1341.7 2136.94,1313.2 2137.89,1287.8 2138.84,1259.3 2139.79,1230.8 2140.75,1209.3 2141.70,1191.5 2142.65,1177.7 2143.60,1168.2 2144.55,1161.5 2144.96,1159.8 2145.50,1162.2 2146.45,1169.6 2147.41,1179.5 2148.36,1194.3 2149.31,1212.8 2150.26,1235.3 2151.21,1264.5 2152.16,1282.8 2153.12,1303.6 2154.07,1323.8 2155.02,1337.2 2155.97,1349.0 2156.92,1360.6 2157.87,1371.4 2158.82,1381.1 2159.78,1389.7 2160.73,1397.8 2161.68,1405.7 2162.63,1413.8 2163.58,1421.2 2164.53,1427.2 2165.46,1431.9 2166.44,1428.5 2167.39,1424.1 2168.34,1418.4 2169.29,1411.3 2170.24,1403.1 2171.19,1393.7 2172.15,1382.2 2173.10,1366.8 2174.05,1345.5 2175.00,1317.1"/>
<polyline stroke="#000000" points="272.00,1334.8 272.95,1332.6 273.90,1330.4 274.85,1328.3 275.81,1326.1 276.76,1323.7 277.71,1321.7 278.66,1320.3 279.61,1319.3 280.56,1318.5 281.51,1318.0 282.47,1317.8 283.42,1318.1 284.37,1318.9 285.32,1319.8 286.27,1320.8 287.22,1322.4 288.18,1324.3 289.13,1326.2 290.08,1327.6 291.03,1328.7 291.98,1329.7 292.93,1330.5 293.88,1330.9 294.84,1330.8 295.79,1329.9 296.74,1328.4 297.69,1326.6 298.64,1323.3 299.59,1318.5 300.55,1312.7 301.50,1304.9 302.45,1295.0 303.40,1285.0 304.35,1275.0 305.30,1264.5 306.25,1255.7 307.21,1249.8 308.30,1245.0 309.11,1248.5 310.06,1254.8 311.01,1260.8 311.96,1273.3 312.91,1284.3 313.87,1299.4 314.82,1318.6 315.77,1335.0 316.70,1340.2 317.67,1333.8 318.62,1314.7 319.57,1301.7 320.53,1289.1 321.48,1278.0 322.43,1267.4 323.38,1256.6 324.33,1241.6 325.28,1231.4 326.24,1224.4 327.19,1217.7 327.60,1215.8 328.14,1218.5 329.09,1226.5 330.04,1233.9 330.99,1248.1 331.94,1263.1 332.90,1280.7 333.85,1306.6 334.80,1326.7 336.10,1343.7 336.70,1340.9 337.65,1321.7 338.61,1306.1 339.56,1291.8 340.51,1278.5 341.46,1266.6 342.41,1254.6 343.36,1241.4 344.31,1224.5 345.27,1216.5 346.22,1207.8 347.20,1201.8 348.12,1208.5 349.07,1218.4 350.02,1229.7 350.97,1249.5 351.93,1268.2 352.88,1296.4 353.83,1323.0 354.78,1345.2 355.30,1348.0 355.73,1346.3 356.68,1331.0 357.63,1317.7 358.59,1305.4 359.54,1294.4 360.49,1284.1 361.44,1273.6 362.39,1258.8 363.34,1251.2 364.30,1243.8 365.10,1239.7 366.20,1246.3 367.15,1254.0 368.10,1263.2 369.05,1279.1 370.00,1293.6 370.96,1314.3 371.91,1337.4 372.86,1357.9 373.70,1362.8 374.76,1351.3 375.71,1331.0 376.67,1315.9 377.62,1301.6 378.57,1289.0 379.52,1276.3 380.47,1261.2 381.42,1245.8 382.37,1237.8 383.33,1229.3 383.80,1226.7 384.28,1229.2 385.23,1237.4 386.18,1245.2 387.13,1259.5 388.08,1275.6 389.03,1293.9 389.99,1321.0 390.94,1342.5 391.89,1359.9 392.30,1361.8 392.84,1359.0 393.79,1337.7 394.74,1320.6 395.69,1304.6 396.65,1290.2 397.60,1276.9 398.55,1263.4 399.50,1244.9 400.45,1232.2 401.40,1223.2 402.60,1214.0 403.31,1218.4 404.26,1228.1 405.21,1236.8 406.16,1255.1 407.11,1271.9 408.06,1293.4 409.02,1323.9 409.97,1347.2 411.20,1365.0 411.87,1361.1 412.82,1337.1 413.77,1319.5 414.73,1302.8 415.68,1287.8 416.63,1273.9 417.58,1259.7 418.53,1240.3 419.48,1226.8 420.43,1217.5 421.70,1207.0 422.34,1211.2 423.29,1221.3 424.24,1230.3 425.19,1249.2 426.14,1267.0 427.09,1289.4 428.05,1321.5 429.00,1346.0 430.20,1364.0 430.90,1359.9 431.85,1335.4 432.80,1317.8 433.75,1301.0 434.71,1286.0 435.66,1272.0 436.61,1257.8 437.56,1238.5 438.51,1224.4 439.46,1215.2 440.42,1206.3 440.80,1204.0 441.37,1207.6 442.32,1217.5 443.27,1226.5 444.22,1244.4 445.17,1262.6 446.12,1284.5 447.08,1316.5 448.03,1341.0 449.30,1361.0 449.93,1357.5 450.88,1333.9 451.83,1316.1 452.78,1299.2 453.74,1284.1 454.69,1270.1 455.64,1255.8 456.59,1236.6 457.54,1222.5 458.49,1213.2 459.45,1204.4 459.80,1202.2 460.40,1206.0 461.35,1215.9 462.30,1224.9 463.25,1242.6 464.20,1260.6 465.15,1282.1 466.11,1313.7 467.06,1338.2 468.01,1357.7 468.40,1359.8 468.96,1356.7 469.91,1334.2 470.86,1316.2 471.81,1299.4 472.77,1284.2 473.72,1270.3 474.67,1256.1 475.62,1237.0 476.57,1223.0 477.52,1213.6 478.80,1203.0 479.43,1207.0 480.38,1216.9 481.33,1225.7 482.28,1243.6 483.23,1261.3 484.18,1282.8 485.14,1314.1 486.09,1338.1 487.04,1356.8 487.40,1358.7 487.99,1355.4 488.94,1332.8 489.89,1315.2 490.85,1298.7 491.80,1283.8 492.75,1270.0 493.70,1256.0 494.65,1237.0 495.60,1223.6 496.55,1214.3 497.80,1204.2 498.46,1208.4 499.41,1218.3 500.36,1227.1 501.31,1245.4 502.26,1262.8 503.21,1284.5 504.17,1315.7 505.12,1339.6 506.40,1359.2 507.02,1355.8 507.97,1332.7 508.92,1315.2 509.88,1298.6 510.83,1283.8 511.78,1270.0 512.73,1256.0 513.68,1236.7 514.63,1223.7 515.58,1214.3 516.80,1204.5 517.49,1209.0 518.44,1219.2 519.39,1228.2 520.34,1247.1 521.29,1264.7 522.24,1286.9 523.20,1318.8 524.15,1343.0 525.40,1362.2 526.05,1358.5 527.00,1334.9 527.95,1317.3 528.90,1300.7 529.86,1285.7 530.81,1271.9 531.76,1257.8 532.71,1238.7 533.66,1225.0 534.61,1215.7 535.90,1205.2 536.52,1209.2 537.47,1219.2 538.42,1228.3 539.37,1246.6 540.32,1264.8 541.27,1286.7 542.23,1318.9 543.18,1343.6 544.13,1363.0 544.50,1365.0 545.08,1361.7 546.03,1338.5 546.98,1320.3 547.93,1303.3 548.89,1287.9 549.84,1273.7 550.79,1259.3 551.74,1239.8 552.69,1225.8 553.64,1216.3 554.90,1205.8 555.55,1210.0 556.50,1220.2 557.45,1229.4 558.40,1248.1 559.35,1266.3 560.30,1288.6 561.26,1321.0 562.21,1345.8 563.50,1366.5 564.11,1363.0 565.06,1339.3 566.01,1321.3 566.96,1304.2 567.92,1288.9 568.87,1274.7 569.82,1260.2 570.77,1240.5 571.72,1226.9 572.67,1217.3 573.90,1207.2 574.58,1211.6 575.53,1221.9 576.48,1231.0 577.43,1250.1 578.38,1268.1 579.33,1290.6 580.29,1323.0 581.24,1347.6 582.50,1367.3 583.14,1363.7 584.09,1340.0 585.04,1322.3 586.00,1305.4 586.95,1290.3 587.90,1276.3 588.85,1262.1 589.80,1242.8 590.75,1228.9 591.70,1219.6 593.00,1208.8 593.61,1212.7 594.56,1222.7 595.51,1231.7 596.46,1249.7 597.41,1267.9 598.36,1289.7 599.32,1321.7 600.27,1346.3 601.22,1365.8 601.60,1367.8 602.17,1364.7 603.12,1341.9 604.07,1323.9 605.02,1307.0 605.98,1291.8 606.93,1277.7 607.88,1263.5 608.83,1244.2 609.78,1230.3 610.73,1220.9 612.00,1210.3 612.64,1214.5 613.59,1224.6 614.54,1233.6 615.49,1252.0 616.44,1270.0 617.39,1292.0 618.35,1324.0 619.30,1348.5 620.25,1367.4 620.60,1369.2 621.20,1365.9 622.15,1342.7 623.10,1324.8 624.06,1307.9 625.01,1292.7 625.96,1278.7 626.91,1264.4 627.86,1245.0 628.81,1231.4 629.76,1221.9 631.00,1211.8 631.67,1216.1 632.62,1226.4 633.57,1235.5 634.52,1254.4 635.47,1272.4 636.42,1294.8 637.38,1327.1 638.33,1351.6 639.60,1371.7 640.23,1368.1 641.18,1344.3 642.13,1326.5 643.09,1309.6 644.04,1294.5 644.99,1280.4 645.94,1266.1 646.89,1246.4 647.84,1233.2 648.79,1223.6 650.00,1213.8 650.70,1218.4 651.65,1228.7 652.60,1237.8 653.55,1257.1 654.50,1275.0 655.45,1297.6 656.41,1329.9 657.36,1354.5 658.60,1373.7 659.26,1369.9 660.21,1345.8 661.16,1328.1 662.12,1311.2 663.07,1296.1 664.02,1282.1 664.97,1267.8 665.92,1248.4 666.87,1234.7 667.82,1225.3 669.10,1214.7 669.73,1218.7 670.68,1228.9 671.63,1238.0 672.58,1256.5 673.53,1274.7 674.48,1296.8 675.44,1329.1 676.39,1353.9 677.34,1373.1 677.70,1375.0 678.29,1371.8 679.24,1348.5 680.19,1330.5 681.14,1313.5 682.10,1298.2 683.05,1284.1 684.00,1269.8 684.95,1250.3 685.90,1236.5 686.85,1227.0 688.10,1216.7 688.76,1221.0 689.71,1231.2 690.66,1240.2 691.61,1259.0 692.56,1277.0 693.51,1299.3 694.47,1331.6 695.42,1356.1 696.70,1376.5 697.32,1373.0 698.27,1349.3 699.22,1331.3 700.17,1314.4 701.13,1299.2 702.08,1285.1 703.03,1270.7 703.98,1251.0 704.93,1237.6 705.88,1228.0 707.10,1218.0 707.79,1222.6 708.74,1232.9 709.69,1242.0 710.64,1261.2 711.59,1279.1 712.54,1301.6 713.50,1333.9 714.45,1358.5 715.70,1378.0 716.35,1374.3 717.30,1350.4 718.25,1332.7 719.20,1315.9 720.16,1300.9 721.11,1286.9 722.06,1272.7 723.01,1253.4 723.96,1239.6 724.91,1230.2 726.20,1219.5 726.82,1223.6 727.77,1233.6 728.72,1242.7 729.67,1261.0 730.62,1279.2 731.57,1301.1 732.53,1333.3 733.48,1358.0 734.43,1377.4 734.80,1379.3 735.38,1376.2 736.33,1353.2 737.28,1335.2 738.24,1318.3 739.19,1303.1 740.14,1289.1 741.09,1274.8 742.04,1255.5 742.99,1241.7 743.94,1232.3 745.20,1221.8 745.85,1226.1 746.80,1236.2 747.75,1245.2 748.70,1263.8 749.65,1281.8 750.60,1303.9 751.56,1335.9 752.51,1360.4 753.80,1380.8 754.41,1377.5 755.36,1354.2 756.31,1336.4 757.26,1319.6 758.22,1304.5 759.17,1290.5 760.12,1276.3 761.07,1257.0 762.02,1243.3 762.97,1233.9 764.23,1223.6 764.88,1227.8 765.83,1237.9 766.78,1246.9 767.73,1265.5 768.68,1283.4 769.63,1305.5 770.59,1337.6 771.54,1362.0 772.83,1382.5 773.44,1379.1 774.39,1355.8 775.34,1338.0 776.30,1321.2 777.25,1306.1 778.20,1292.2 779.15,1278.0 780.10,1258.7 781.05,1245.0 782.00,1235.6 783.26,1225.3 783.91,1229.5 784.86,1239.6 785.81,1248.6 786.76,1267.2 787.71,1285.1 788.66,1307.2 789.62,1339.2 790.57,1363.6 791.86,1384.1 792.47,1380.7 793.42,1357.5 794.37,1339.7 795.33,1322.9 796.28,1307.8 797.23,1293.9 798.18,1279.7 799.13,1260.4 800.08,1246.7 801.03,1237.4 802.29,1227.0 802.94,1231.2 803.89,1241.3 804.84,1250.3 805.79,1268.9 806.74,1286.8 807.69,1308.9 808.65,1340.9 809.60,1365.3 810.89,1385.7 811.50,1382.3 812.45,1359.1 813.40,1341.3 814.36,1324.5 815.31,1309.5 816.26,1295.5 817.21,1281.3 818.16,1262.1 819.11,1248.5 820.06,1239.1 821.32,1228.7 821.97,1232.9 822.92,1243.0 823.87,1252.0 824.82,1270.6 825.77,1288.5 826.72,1310.5 827.68,1342.5 828.63,1366.9 829.92,1387.3 830.53,1383.9 831.48,1360.7 832.43,1343.0 833.38,1326.2 834.34,1311.1 835.29,1297.2 836.24,1283.0 837.19,1263.8 838.14,1250.2 839.09,1240.8 840.35,1230.5 841.00,1234.7 841.95,1244.8 842.90,1253.8 843.85,1272.3 844.80,1290.2 845.75,1312.2 846.71,1344.2 847.66,1368.5 848.95,1389.0 849.56,1385.6 850.51,1362.4 851.46,1344.6 852.41,1327.9 853.37,1312.8 854.32,1298.9 855.27,1284.7 856.22,1265.5 857.17,1251.9 858.12,1242.5 859.38,1232.2 860.03,1236.4 860.98,1246.5 861.93,1255.5 862.88,1274.0 863.83,1291.9 864.78,1313.9 865.74,1345.8 866.69,1370.2 867.98,1390.6 868.59,1387.2 869.54,1364.0 870.49,1346.3 871.45,1329.5 872.40,1314.5 873.35,1300.6 874.30,1286.4 875.25,1267.2 876.20,1253.6 877.15,1244.2 878.41,1233.9 879.06,1238.1 880.01,1248.2 880.96,1257.2 881.91,1275.7 882.86,1293.5 883.81,1315.5 884.77,1347.5 885.72,1371.8 887.01,1392.2 887.62,1388.8 888.57,1365.6 889.52,1347.9 890.48,1331.2 891.43,1316.2 892.38,1302.3 893.33,1288.1 894.28,1268.9 895.23,1255.3 896.18,1245.9 897.44,1235.6 898.09,1239.8 899.04,1249.9 899.99,1258.9 900.94,1277.4 901.89,1295.2 902.84,1317.2 903.80,1349.1 904.75,1373.4 906.04,1393.8 906.65,1390.4 907.60,1367.3 908.55,1349.6 909.50,1332.8 910.46,1317.8 911.41,1303.9 912.36,1289.8 913.31,1270.6 914.26,1257.0 915.21,1247.7 916.47,1237.3 917.12,1241.5 918.07,1251.6 919.02,1260.6 919.97,1279.1 920.92,1296.9 921.87,1318.9 922.83,1350.8 923.78,1375.1 925.07,1395.4 925.68,1392.1 926.63,1368.9 927.58,1351.2 928.53,1334.5 929.49,1319.5 930.44,1305.6 931.39,1291.5 932.34,1272.3 933.29,1258.7 934.24,1249.4 935.50,1239.1 936.15,1243.3 937.10,1253.3 938.05,1262.3 939.00,1280.7 939.95,1298.6 940.90,1320.5 941.86,1352.4 942.81,1376.7 944.10,1397.1 944.71,1393.7 945.66,1370.6 946.61,1352.9 947.57,1336.2 948.52,1321.2 949.47,1307.3 950.42,1293.2 951.37,1274.0 952.32,1260.4 953.27,1251.1 954.53,1240.8 955.18,1245.0 956.13,1255.0 957.08,1264.0 958.03,1282.4 958.98,1300.3 959.93,1322.2 960.89,1354.0 961.84,1378.3 963.13,1398.7 963.74,1395.3 964.69,1372.2 965.64,1354.5 966.60,1337.8 967.55,1322.8 968.50,1309.0 969.45,1294.8 970.40,1275.7 971.35,1262.1 972.30,1252.8 973.56,1242.5 974.21,1246.7 975.16,1256.7 976.11,1265.7 977.06,1284.1 978.01,1302.0 978.96,1323.9 979.92,1355.7 980.87,1380.0 982.16,1400.3 982.77,1396.9 983.72,1373.8 984.67,1356.2 985.62,1339.5 986.58,1324.5 987.53,1310.7 988.48,1296.5 989.43,1277.4 990.38,1263.8 991.33,1254.5 992.59,1244.2 993.24,1248.4 994.19,1258.5 995.14,1267.4 996.09,1285.8 997.04,1303.6 997.99,1325.6 998.95,1357.3 999.90,1381.6 1001.19,1401.9 1001.80,1398.5 1002.75,1375.5 1003.70,1357.8 1004.65,1341.1 1005.61,1326.2 1006.56,1312.3 1007.51,1298.2 1008.46,1279.1 1009.41,1265.5 1010.36,1256.2 1011.62,1246.0 1012.27,1250.1 1013.22,1260.2 1014.17,1269.1 1015.12,1287.5 1016.07,1305.3 1017.02,1327.2 1017.98,1359.0 1018.93,1383.2 1020.22,1403.5 1020.83,1400.2 1021.78,1377.1 1022.73,1359.5 1023.68,1342.8 1024.64,1327.8 1025.59,1314.0 1026.54,1299.9 1027.49,1280.8 1028.44,1267.3 1029.39,1257.9 1030.65,1247.7 1031.30,1251.9 1032.25,1261.9 1033.20,1270.8 1034.15,1289.2 1035.10,1307.0 1036.05,1328.9 1037.01,1360.6 1037.96,1384.9 1039.25,1405.2 1039.86,1401.8 1040.81,1378.7 1041.76,1361.1 1042.72,1344.5 1043.67,1329.5 1044.62,1315.7 1045.57,1301.6 1046.52,1282.5 1047.47,1269.0 1048.42,1259.7 1049.68,1249.4 1050.33,1253.6 1051.28,1263.6 1052.23,1272.5 1053.18,1290.9 1054.13,1308.7 1055.08,1330.6 1056.04,1362.3 1056.99,1386.5 1058.28,1406.8 1058.89,1403.4 1059.84,1380.4 1060.79,1362.8 1061.74,1346.1 1062.70,1331.2 1063.65,1317.4 1064.60,1303.3 1065.55,1284.2 1066.50,1270.7 1067.45,1261.4 1068.71,1251.1 1069.36,1255.3 1070.31,1265.3 1071.26,1274.2 1072.21,1292.6 1073.16,1310.4 1074.11,1332.2 1075.07,1363.9 1076.02,1388.1 1077.31,1408.4 1077.92,1405.0 1078.87,1382.0 1079.82,1364.4 1080.78,1347.8 1081.73,1332.9 1082.68,1319.0 1083.63,1305.0 1084.58,1285.9 1085.53,1272.4 1086.48,1263.1 1087.74,1252.8 1088.39,1257.0 1089.34,1267.0 1090.29,1275.9 1091.24,1294.3 1092.19,1312.1 1093.14,1333.9 1094.10,1365.6 1095.05,1389.8 1096.34,1410.0 1096.95,1406.7 1097.90,1383.7 1098.85,1366.1 1099.80,1349.4 1100.76,1334.5 1101.71,1320.7 1102.66,1306.7 1103.61,1287.6 1104.56,1274.1 1105.51,1264.8 1106.77,1254.6 1107.42,1258.7 1108.37,1268.7 1109.32,1277.7 1110.27,1296.0 1111.22,1313.7 1112.17,1335.6 1113.13,1367.2 1114.08,1391.4 1115.37,1411.6 1115.98,1408.3 1116.93,1385.3 1117.88,1367.7 1118.84,1351.1 1119.79,1336.2 1120.74,1322.4 1121.69,1308.3 1122.64,1289.3 1123.59,1275.8 1124.54,1266.5 1125.80,1256.3 1126.45,1260.5 1127.40,1270.4 1128.35,1279.4 1129.30,1297.7 1130.25,1315.4 1131.20,1337.2 1132.16,1368.9 1133.11,1393.0 1134.40,1413.3 1135.01,1409.9 1135.96,1386.9 1136.91,1369.3 1137.87,1352.8 1138.82,1337.9 1139.77,1324.1 1140.72,1310.0 1141.67,1291.0 1142.62,1277.5 1143.57,1268.2 1144.83,1258.0 1145.48,1262.2 1146.43,1272.2 1147.38,1281.1 1148.33,1299.4 1149.28,1317.1 1150.23,1338.9 1151.19,1370.5 1152.14,1394.7 1153.43,1414.9 1154.04,1411.5 1154.99,1388.6 1155.94,1371.0 1156.89,1354.4 1157.85,1339.5 1158.80,1325.8 1159.75,1311.7 1160.70,1292.7 1161.65,1279.2 1162.60,1270.0 1163.86,1259.7 1164.51,1263.9 1165.46,1273.9 1166.41,1282.8 1167.36,1301.1 1168.31,1318.8 1169.26,1340.6 1170.22,1372.2 1171.17,1396.3 1172.46,1416.5 1173.07,1413.2 1174.02,1390.2 1174.97,1372.6 1175.92,1356.1 1176.88,1341.2 1177.83,1327.4 1178.78,1313.4 1179.73,1294.4 1180.68,1280.9 1181.63,1271.7 1182.89,1261.5 1183.54,1265.6 1184.49,1275.6 1185.44,1284.5 1186.39,1302.8 1187.34,1320.5 1188.29,1342.3 1189.25,1373.8 1190.20,1397.9 1191.49,1418.1 1192.10,1414.8 1193.05,1391.8 1194.00,1374.3 1194.95,1357.7 1195.91,1342.9 1196.86,1329.1 1197.81,1315.1 1198.76,1296.1 1199.71,1282.6 1200.66,1273.4 1201.92,1263.2 1202.57,1267.3 1203.52,1277.3 1204.47,1286.2 1205.42,1304.5 1206.37,1322.2 1207.32,1343.9 1208.28,1375.5 1209.23,1399.6 1210.52,1419.7 1211.13,1416.4 1212.08,1393.5 1213.03,1375.9 1213.99,1359.4 1214.94,1344.5 1215.89,1330.8 1216.84,1316.7 1217.79,1297.7 1218.74,1284.3 1219.69,1275.0 1220.95,1264.8 1221.60,1269.0 1222.55,1278.9 1223.50,1287.7 1224.45,1306.0 1225.40,1323.6 1226.35,1345.2 1227.31,1376.6 1228.26,1400.6 1229.55,1420.7 1230.16,1417.4 1231.11,1394.5 1232.06,1377.1 1233.01,1360.6 1233.97,1345.8 1234.92,1332.1 1235.87,1318.2 1236.82,1299.2 1237.77,1285.9 1238.72,1276.6 1239.98,1266.5 1240.63,1270.6 1241.58,1280.5 1242.53,1289.4 1243.48,1307.6 1244.43,1325.2 1245.38,1346.8 1246.34,1378.2 1247.29,1402.2 1248.58,1422.3 1249.19,1419.0 1250.14,1396.1 1251.09,1378.7 1252.05,1362.2 1253.00,1347.4 1253.95,1333.7 1254.90,1319.8 1255.85,1300.9 1256.80,1287.5 1257.75,1278.3 1259.01,1268.1 1259.66,1272.3 1260.61,1282.2 1261.56,1291.0 1262.51,1309.2 1263.46,1326.8 1264.41,1348.5 1265.37,1379.9 1266.32,1403.8 1267.61,1423.9 1268.22,1420.5 1269.17,1397.7 1270.12,1380.3 1271.08,1363.8 1272.03,1349.0 1272.98,1335.4 1273.93,1321.4 1274.88,1302.5 1275.83,1289.1 1276.78,1279.9 1278.04,1269.8 1278.69,1273.9 1279.64,1283.8 1280.59,1292.7 1281.54,1310.9 1282.49,1328.4 1283.44,1350.1 1284.40,1381.5 1285.35,1405.4 1286.64,1425.4 1287.25,1422.1 1288.20,1399.3 1289.15,1381.9 1290.11,1365.4 1291.06,1350.7 1292.01,1337.0 1292.96,1323.1 1293.91,1304.2 1294.86,1290.8 1295.81,1281.6 1297.07,1271.5 1297.72,1275.6 1298.67,1285.5 1299.62,1294.3 1300.57,1312.5 1301.52,1330.1 1302.47,1351.7 1303.43,1383.1 1304.38,1407.0 1305.67,1427.0 1306.28,1423.7 1307.23,1400.9 1308.18,1383.5 1309.13,1367.1 1310.09,1352.3 1311.04,1338.6 1311.99,1324.7 1312.94,1305.8 1313.89,1292.4 1314.84,1283.2 1316.10,1273.1 1316.75,1277.2 1317.70,1287.1 1318.65,1296.0 1319.60,1314.1 1320.55,1331.7 1321.50,1353.3 1322.46,1384.7 1323.41,1408.6 1324.70,1428.6 1325.31,1425.3 1326.26,1402.5 1327.21,1385.1 1328.16,1368.7 1329.12,1353.9 1330.07,1340.2 1331.02,1326.3 1331.97,1307.4 1332.92,1294.1 1333.87,1284.9 1335.13,1274.8 1335.78,1278.9 1336.73,1288.8 1337.68,1297.6 1338.63,1315.8 1339.58,1333.3 1340.53,1354.9 1341.49,1386.3 1342.44,1410.2 1343.73,1430.2 1344.34,1426.9 1345.29,1404.1 1346.24,1386.7 1347.19,1370.3 1348.15,1355.5 1349.10,1341.9 1350.05,1328.0 1351.00,1309.1 1351.95,1295.7 1352.90,1286.5 1354.16,1276.4 1354.81,1280.5 1355.76,1290.4 1356.71,1299.2 1357.66,1317.4 1358.61,1334.9 1359.56,1356.5 1360.52,1387.9 1361.47,1411.8 1362.76,1431.8 1363.37,1428.5 1364.32,1405.7 1365.27,1388.3 1366.22,1371.9 1367.18,1357.1 1368.13,1343.5 1369.08,1329.6 1370.03,1310.7 1370.98,1297.4 1371.93,1288.2 1373.19,1278.1 1373.84,1282.2 1374.79,1292.1 1375.74,1300.9 1376.69,1319.0 1377.64,1336.6 1378.59,1358.2 1379.55,1389.5 1380.50,1413.4 1381.79,1433.4 1382.40,1430.1 1383.35,1407.3 1384.30,1389.9 1385.26,1373.5 1386.21,1358.7 1387.16,1345.1 1388.11,1331.2 1389.06,1312.4 1390.01,1299.0 1390.96,1289.8 1392.22,1279.7 1392.87,1283.8 1393.82,1293.7 1394.77,1302.5 1395.72,1320.7 1396.67,1338.2 1397.62,1359.8 1398.58,1391.1 1399.53,1415.0 1400.82,1435.0 1401.43,1431.6 1402.38,1408.9 1403.33,1391.5 1404.29,1375.1 1405.24,1360.4 1406.19,1346.7 1407.14,1332.8 1408.09,1314.0 1409.04,1300.7 1409.99,1291.5 1411.25,1281.4 1411.90,1285.5 1412.85,1295.4 1413.80,1304.2 1414.75,1322.3 1415.70,1339.8 1416.65,1361.4 1417.61,1392.7 1418.56,1416.6 1419.85,1436.5 1420.46,1433.2 1421.41,1410.5 1422.36,1393.1 1423.32,1376.7 1424.27,1362.0 1425.22,1348.4 1426.17,1334.5 1427.12,1315.6 1428.07,1302.3 1429.02,1293.1 1430.28,1283.0 1430.93,1287.1 1431.88,1297.0 1432.83,1305.8 1433.78,1323.9 1434.73,1341.5 1435.68,1363.0 1436.64,1394.3 1437.59,1418.2 1438.88,1438.1 1439.49,1434.8 1440.44,1412.1 1441.39,1394.7 1442.35,1378.3 1443.30,1363.6 1444.25,1350.0 1445.20,1336.1 1446.15,1317.3 1447.10,1304.0 1448.05,1294.8 1449.31,1284.7 1449.96,1288.8 1450.91,1298.7 1451.86,1307.5 1452.81,1325.6 1453.76,1343.1 1454.71,1364.6 1455.67,1395.9 1456.62,1419.7 1457.91,1439.7 1458.52,1436.4 1459.47,1413.7 1460.42,1396.3 1461.38,1379.9 1462.33,1365.2 1463.28,1351.6 1464.23,1337.7 1465.18,1318.9 1466.13,1305.6 1467.08,1296.4 1468.34,1286.3 1468.99,1290.4 1469.94,1300.3 1470.89,1309.1 1471.84,1327.2 1472.79,1344.7 1473.74,1366.3 1474.70,1397.5 1475.65,1421.3 1476.94,1441.3 1477.55,1438.0 1478.50,1415.3 1479.45,1397.9 1480.40,1381.6 1481.36,1366.8 1482.31,1353.2 1483.26,1339.4 1484.21,1320.5 1485.16,1307.2 1486.11,1298.1 1487.37,1288.0 1488.02,1292.1 1488.97,1302.0 1489.92,1310.8 1490.87,1328.8 1491.82,1346.3 1492.77,1367.9 1493.73,1399.1 1494.68,1422.9 1495.97,1442.9 1496.58,1439.6 1497.53,1416.9 1498.48,1399.5 1499.43,1383.2 1500.39,1368.5 1501.34,1354.9 1502.29,1341.0 1503.24,1322.2 1504.19,1308.9 1505.14,1299.7 1506.40,1289.6 1507.05,1293.7 1508.00,1303.6 1508.95,1312.4 1509.90,1330.5 1510.85,1348.0 1511.80,1369.5 1512.76,1400.7 1513.71,1424.5 1515.00,1444.5 1515.61,1441.2 1516.56,1418.5 1517.51,1401.1 1518.46,1384.8 1519.42,1370.1 1520.37,1356.5 1521.32,1342.6 1522.27,1323.8 1523.22,1310.5 1524.17,1301.4 1525.43,1291.3 1526.08,1295.4 1527.03,1305.2 1527.98,1314.0 1528.93,1332.1 1529.88,1349.6 1530.83,1371.1 1531.79,1402.3 1532.74,1426.1 1534.03,1446.0 1534.64,1442.7 1535.59,1420.1 1536.54,1402.7 1537.49,1386.4 1538.45,1371.7 1539.40,1358.1 1540.35,1344.3 1541.30,1325.5 1542.25,1312.2 1543.20,1303.0 1544.46,1293.0 1545.11,1297.1 1546.06,1306.9 1547.01,1315.7 1547.96,1333.8 1548.91,1351.2 1549.86,1372.7 1550.82,1403.9 1551.77,1427.7 1553.06,1447.6 1553.67,1444.3 1554.62,1421.7 1555.57,1404.3 1556.53,1388.0 1557.48,1373.3 1558.43,1359.7 1559.38,1345.9 1560.33,1327.1 1561.28,1313.8 1562.23,1304.7 1563.49,1294.6 1564.14,1298.7 1565.09,1308.5 1566.04,1317.3 1566.99,1335.4 1567.94,1352.8 1568.89,1374.3 1569.85,1405.5 1570.80,1429.3 1572.09,1449.2 1572.70,1445.9 1573.65,1423.3 1574.60,1406.0 1575.56,1389.6 1576.51,1374.9 1577.46,1361.4 1578.41,1347.5 1579.36,1328.7 1580.31,1315.5 1581.26,1306.3 1582.52,1296.3 1583.17,1300.4 1584.12,1310.2 1585.07,1319.0 1586.02,1337.0 1586.97,1354.5 1587.92,1376.0 1588.88,1407.1 1589.83,1430.9 1591.12,1450.8 1591.73,1447.5 1592.68,1424.9 1593.63,1407.6 1594.59,1391.2 1595.54,1376.5 1596.49,1363.0 1597.44,1349.1 1598.39,1330.4 1599.34,1317.1 1600.29,1308.0 1601.55,1297.9 1602.20,1302.0 1603.15,1311.8 1604.10,1320.6 1605.05,1338.7 1606.00,1356.1 1606.95,1377.6 1607.91,1408.7 1608.86,1432.5 1610.15,1452.4 1610.76,1449.1 1611.71,1426.5 1612.66,1409.2 1613.62,1392.8 1614.57,1378.2 1615.52,1364.6 1616.47,1350.8 1617.42,1332.0 1618.37,1318.8 1619.32,1309.6 1620.58,1299.6 1621.23,1303.7 1622.18,1313.5 1623.13,1322.3 1624.08,1340.3 1625.03,1357.7 1625.98,1379.2 1626.94,1410.3 1627.89,1434.1 1629.18,1454.0 1629.79,1450.7 1630.74,1428.1 1631.69,1410.8 1632.64,1394.4 1633.60,1379.8 1634.55,1366.2 1635.50,1352.4 1636.45,1333.7 1637.40,1320.4 1638.35,1311.3 1639.61,1301.2 1640.26,1305.3 1641.21,1315.1 1642.16,1323.9 1643.11,1341.9 1644.06,1359.4 1645.01,1380.8 1645.97,1411.9 1646.92,1435.7 1648.21,1455.5 1648.82,1452.3 1649.77,1429.7 1650.72,1412.4 1651.67,1396.1 1652.63,1381.4 1653.58,1367.8 1654.53,1354.0 1655.48,1335.3 1656.43,1322.0 1657.38,1312.9 1658.64,1302.9 1659.29,1307.0 1660.24,1316.8 1661.19,1325.5 1662.14,1343.6 1663.09,1361.0 1664.04,1382.4 1665.00,1413.5 1665.95,1437.3 1667.24,1457.1 1667.85,1453.8 1668.80,1431.2 1669.75,1414.0 1670.70,1397.7 1671.66,1383.0 1672.61,1369.5 1673.56,1355.7 1674.51,1336.9 1675.46,1323.7 1676.41,1314.6 1677.67,1304.5 1678.32,1308.6 1679.27,1318.4 1680.22,1327.2 1681.17,1345.2 1682.12,1362.6 1683.07,1384.0 1684.03,1415.1 1684.98,1438.8 1686.27,1458.7 1686.88,1455.4 1687.83,1432.8 1688.78,1415.6 1689.73,1399.3 1690.69,1384.6 1691.64,1371.1 1692.59,1357.3 1693.54,1338.6 1694.49,1325.3 1695.44,1316.2 1696.70,1306.2 1697.35,1310.3 1698.30,1320.1 1699.25,1328.8 1700.20,1346.7 1701.15,1364.1 1702.10,1385.5 1703.06,1416.5 1704.01,1440.1 1705.30,1459.9 1705.91,1456.6 1706.86,1434.1 1707.81,1416.9 1708.77,1400.7 1709.72,1386.1 1710.67,1372.6 1711.62,1358.9 1712.57,1340.2 1713.52,1327.1 1714.47,1318.0 1715.73,1308.0 1716.38,1312.0 1717.33,1321.8 1718.28,1330.5 1719.23,1348.5 1720.18,1365.8 1721.13,1387.1 1722.09,1418.1 1723.04,1441.7 1724.33,1461.5 1724.94,1458.2 1725.89,1435.7 1726.84,1418.5 1727.80,1402.3 1728.75,1387.7 1729.70,1374.2 1730.65,1360.5 1731.60,1341.9 1732.55,1328.7 1733.50,1319.6 1734.76,1309.6 1735.41,1313.7 1736.36,1323.4 1737.31,1332.1 1738.26,1350.1 1739.21,1367.4 1740.16,1388.7 1741.12,1419.6 1742.07,1443.2 1743.36,1463.0 1743.97,1459.7 1744.92,1437.2 1745.87,1420.1 1746.83,1403.9 1747.78,1389.3 1748.73,1375.8 1749.68,1362.1 1750.63,1343.5 1751.58,1330.3 1752.53,1321.2 1753.79,1311.2 1754.44,1315.3 1755.39,1325.1 1756.34,1333.8 1757.29,1351.7 1758.24,1369.0 1759.19,1390.3 1760.15,1421.2 1761.10,1444.8 1762.39,1464.5 1763.00,1461.3 1763.95,1438.8 1764.90,1421.6 1765.86,1405.4 1766.81,1390.9 1767.76,1377.4 1768.71,1363.7 1769.66,1345.1 1770.61,1331.9 1771.56,1322.8 1772.82,1312.9 1773.47,1316.9 1774.42,1326.7 1775.37,1335.4 1776.32,1353.3 1777.27,1370.6 1778.22,1391.9 1779.18,1422.8 1780.13,1446.3 1781.42,1466.1 1782.03,1462.8 1782.98,1440.4 1783.93,1423.2 1784.88,1407.0 1785.84,1392.4 1786.79,1379.0 1787.74,1365.3 1788.69,1346.7 1789.64,1333.5 1790.59,1324.5 1791.85,1314.5 1792.50,1318.5 1793.45,1328.3 1794.40,1337.0 1795.35,1354.9 1796.30,1372.2 1797.25,1393.4 1798.21,1424.3 1799.16,1447.9 1800.45,1467.6 1801.06,1464.3 1802.01,1441.9 1802.96,1424.8 1803.91,1408.6 1804.87,1394.0 1805.82,1380.6 1806.77,1366.9 1807.72,1348.3 1808.67,1335.1 1809.62,1326.1 1810.88,1316.1 1811.53,1320.2 1812.48,1329.9 1813.43,1338.6 1814.38,1356.5 1815.33,1373.8 1816.28,1395.0 1817.24,1425.9 1818.19,1449.4 1819.48,1469.1 1820.09,1465.9 1821.04,1443.5 1821.99,1426.3 1822.94,1410.1 1823.90,1395.6 1824.85,1382.2 1825.80,1368.5 1826.75,1349.9 1827.70,1336.8 1828.65,1327.7 1829.91,1317.7 1830.56,1321.8 1831.51,1331.5 1832.46,1340.2 1833.41,1358.1 1834.36,1375.4 1835.31,1396.6 1836.27,1427.4 1837.22,1451.0 1838.51,1470.7 1839.12,1467.4 1840.07,1445.0 1841.02,1427.9 1841.97,1411.7 1842.93,1397.2 1843.88,1383.8 1844.83,1370.1 1845.78,1351.5 1846.73,1338.4 1847.68,1329.3 1848.94,1319.4 1849.59,1323.4 1850.54,1333.1 1851.49,1341.8 1852.44,1359.7 1853.39,1376.9 1854.34,1398.2 1855.30,1429.0 1856.25,1452.5 1857.54,1472.2 1858.15,1468.9 1859.10,1446.6 1860.05,1429.4 1861.01,1413.3 1861.96,1398.8 1862.91,1385.3 1863.86,1371.7 1864.81,1353.1 1865.76,1340.0 1866.71,1330.9 1867.97,1321.0 1868.62,1325.0 1869.57,1334.8 1870.52,1343.4 1871.47,1361.3 1872.42,1378.5 1873.37,1399.8 1874.33,1430.6 1875.28,1454.1 1876.57,1473.7 1877.18,1470.5 1878.13,1448.1 1879.08,1431.0 1880.04,1414.9 1880.99,1400.3 1881.94,1386.9 1882.89,1373.3 1883.84,1354.7 1884.79,1341.6 1885.74,1332.6 1887.00,1322.6 1887.65,1326.7 1888.60,1336.4 1889.55,1345.0 1890.50,1362.9 1891.45,1380.1 1892.40,1401.3 1893.36,1432.1 1894.31,1455.6 1895.60,1475.3 1896.21,1472.0 1897.16,1449.7 1898.11,1432.6 1899.07,1416.4 1900.02,1401.9 1900.97,1388.5 1901.92,1374.9 1902.87,1356.3 1903.82,1343.2 1904.77,1334.2 1906.03,1324.2 1906.68,1328.3 1907.63,1338.0 1908.58,1346.7 1909.53,1364.5 1910.48,1381.7 1911.43,1402.9 1912.39,1433.7 1913.34,1457.2 1914.63,1476.8 1915.24,1473.6 1916.19,1451.2 1917.14,1434.1 1918.10,1418.0 1919.05,1403.5 1920.00,1390.1 1920.95,1376.5 1921.90,1357.9 1922.85,1344.8 1923.80,1335.8 1925.06,1325.9 1925.71,1329.9 1926.66,1339.6 1927.61,1348.3 1928.56,1366.1 1929.51,1383.3 1930.46,1404.5 1931.42,1435.3 1932.37,1458.7 1933.66,1478.3 1934.27,1475.1 1935.22,1452.8 1936.17,1435.7 1937.12,1419.6 1938.08,1405.1 1939.03,1391.7 1939.98,1378.0 1940.93,1359.5 1941.88,1346.4 1942.83,1337.4 1944.09,1327.5 1944.74,1331.5 1945.69,1341.2 1946.64,1349.9 1947.59,1367.7 1948.54,1384.9 1949.49,1406.1 1950.45,1436.8 1951.40,1460.3 1952.69,1479.9 1953.30,1476.6 1954.25,1454.3 1955.20,1437.2 1956.15,1421.1 1957.11,1406.7 1958.06,1393.3 1959.01,1379.6 1959.96,1361.1 1960.91,1348.1 1961.86,1339.0 1963.12,1329.1 1963.77,1333.2 1964.72,1342.9 1965.67,1351.5 1966.62,1369.3 1967.57,1386.5 1968.52,1407.7 1969.48,1438.4 1970.43,1461.8 1971.72,1481.4 1972.33,1478.2 1973.28,1455.9 1974.23,1438.8 1975.18,1422.7 1976.14,1408.2 1977.09,1394.9 1978.04,1381.2 1978.99,1362.7 1979.94,1349.7 1980.89,1340.7 1982.15,1330.7 1982.80,1334.8 1983.75,1344.5 1984.70,1353.1 1985.65,1370.9 1986.60,1388.1 1987.55,1409.2 1988.51,1439.9 1989.46,1463.4 1990.75,1483.0 1991.36,1479.7 1992.31,1457.4 1993.26,1440.4 1994.21,1424.3 1995.17,1409.8 1996.12,1396.5 1997.07,1382.8 1998.02,1364.4 1998.97,1351.3 1999.92,1342.3 2001.18,1332.4 2001.83,1336.4 2002.78,1346.1 2003.73,1354.7 2004.68,1372.5 2005.63,1389.7 2006.58,1410.8 2007.54,1441.5 2008.49,1464.9 2009.78,1484.5 2010.39,1481.2 2011.34,1459.0 2012.29,1441.9 2013.24,1425.8 2014.20,1411.4 2015.15,1398.0 2016.10,1384.4 2017.05,1366.0 2018.00,1352.9 2018.95,1343.9 2020.21,1334.0 2020.86,1338.0 2021.81,1347.7 2022.76,1356.3 2023.71,1374.1 2024.66,1391.3 2025.61,1412.4 2026.57,1443.1 2027.52,1466.5 2028.81,1486.0 2029.42,1482.8 2030.37,1460.5 2031.32,1443.5 2032.28,1427.4 2033.23,1413.0 2034.18,1399.6 2035.13,1386.0 2036.08,1367.6 2037.03,1354.5 2037.98,1345.5 2039.24,1335.6 2039.89,1339.7 2040.84,1349.3 2041.79,1358.0 2042.74,1375.7 2043.69,1392.9 2044.64,1414.0 2045.60,1444.6 2046.55,1468.0 2047.84,1487.6 2048.45,1484.3 2049.40,1462.1 2050.35,1445.1 2051.31,1429.0 2052.26,1414.6 2053.21,1401.2 2054.16,1387.6 2055.11,1369.2 2056.06,1356.1 2057.01,1347.1 2058.27,1337.2 2058.92,1341.3 2059.87,1350.9 2060.82,1359.6 2061.77,1377.3 2062.72,1394.5 2063.67,1415.6 2064.63,1446.2 2065.58,1469.6 2066.87,1489.1 2067.48,1485.9 2068.43,1463.6 2069.38,1446.6 2070.34,1430.6 2071.29,1416.1 2072.24,1402.8 2073.19,1389.2 2074.14,1370.8 2075.09,1357.7 2076.04,1348.8 2077.30,1338.9 2077.95,1342.9 2078.90,1352.6 2079.85,1361.2 2080.80,1378.9 2081.75,1396.1 2082.70,1417.1 2083.66,1447.7 2084.61,1471.1 2085.90,1490.6 2086.51,1487.4 2087.46,1465.2 2088.41,1448.2 2089.36,1432.1 2090.32,1417.7 2091.27,1404.4 2092.22,1390.8 2093.17,1372.4 2094.12,1359.4 2095.07,1350.4 2096.33,1340.5 2096.98,1344.5 2097.93,1354.2 2098.88,1362.8 2099.83,1380.5 2100.78,1397.6 2101.73,1418.7 2102.69,1449.3 2103.64,1472.6 2104.93,1492.2 2105.54,1488.9 2106.49,1466.7 2107.44,1449.7 2108.39,1433.7 2109.35,1419.3 2110.30,1406.0 2111.25,1392.4 2112.20,1374.0 2113.15,1361.0 2114.10,1352.0 2115.36,1342.1 2116.01,1346.1 2116.96,1355.8 2117.91,1364.4 2118.86,1382.1 2119.81,1399.2 2120.76,1420.3 2121.72,1450.9 2122.67,1474.2 2123.96,1493.7 2124.57,1490.5 2125.52,1468.3 2126.47,1451.3 2127.43,1435.3 2128.38,1420.9 2129.33,1407.6 2130.28,1394.0 2131.23,1375.6 2132.18,1362.6 2133.13,1353.6 2134.39,1343.8 2135.04,1347.8 2135.99,1357.4 2136.94,1366.0 2137.89,1383.7 2138.84,1400.8 2139.79,1421.9 2140.75,1452.4 2141.70,1475.7 2142.99,1495.2 2143.60,1492.0 2144.55,1469.8 2145.50,1452.9 2146.45,1436.8 2147.41,1422.5 2148.36,1409.2 2149.31,1395.6 2150.26,1377.2 2151.21,1364.2 2152.16,1355.2 2153.42,1345.4 2154.07,1349.4 2155.02,1359.0 2155.97,1367.6 2156.92,1385.3 2157.87,1402.4 2158.82,1423.5 2159.78,1454.0 2160.73,1477.3 2162.02,1496.8 2162.63,1493.6 2163.58,1471.4 2164.53,1454.4 2165.48,1438.4 2166.44,1424.0 2167.39,1410.7 2168.34,1397.2 2169.29,1378.8 2170.24,1365.8 2171.19,1356.9 2172.45,1347.0 2173.10,1351.0 2174.05,1360.6 2175.00,1369.2"/>
<polyline stroke="#ff0000" points="272.00,1334.8 272.95,1332.6 273.90,1330.4 274.85,1328.3 275.81,1326.1 276.76,1323.7 277.71,1321.7 278.66,1320.3 279.61,1319.3 280.56,1318.5 281.51,1318.0 282.30,1317.8 283.42,1318.1 284.37,1318.9 285.32,1319.8 286.27,1320.8 287.22,1322.4 288.18,1324.3 289.13,1326.2 290.08,1327.6 291.03,1328.7 291.98,1329.7 292.93,1330.5 293.88,1330.9 294.30,1331.0 294.84,1330.9 295.79,1330.0 296.74,1328.5 297.69,1326.5 298.64,1322.3 299.59,1316.0 300.55,1308.3 301.50,1297.9 302.45,1285.7 303.40,1271.7 304.35,1255.9 305.30,1240.2 306.25,1226.2 307.21,1210.3 308.16,1186.9 309.11,1151.5 310.06,1122.8 311.01,1100.7 311.96,1073.3 312.91,1034.3 313.87,983.5 314.82,949.2 315.77,927.8 316.72,913.4 317.67,903.6 318.62,898.4 319.10,897.4 319.57,898.3 320.53,905.6 321.48,929.6 322.43,952.8 323.38,978.5 324.33,1010.1 325.28,1046.1 326.24,1084.7 327.19,1107.6 328.30,1121.0 329.09,1113.9 330.04,1099.5 330.99,1087.2 331.94,1082.5 332.90,1081.7 333.85,1081.2 334.80,1080.7 335.75,1080.2 336.70,1079.8 337.65,1079.3 338.61,1078.3 339.56,1059.9 340.51,1037.1 341.46,1015.4 342.41,994.3 343.36,974.9 344.31,957.5 345.27,940.6 346.22,923.7 347.17,908.6 348.12,888.2 349.07,842.8 350.02,794.9 350.97,753.3 351.93,709.2 352.88,652.2 353.83,600.8 354.78,584.3 355.73,575.4 356.40,572.9 357.63,580.4 358.59,593.7 359.54,615.1 360.49,643.0 361.44,677.4 362.39,720.7 363.34,765.4 364.30,814.8 365.25,857.9 366.20,893.1 367.15,919.1 368.10,932.6 369.05,936.2 370.00,938.2 370.96,940.1 371.91,943.5 372.86,954.5 373.81,985.4 374.76,1016.6 375.71,1042.0 376.67,1055.0 377.40,1062.0 378.57,1053.8 379.52,1043.0 380.47,1005.8 381.42,964.9 382.37,929.3 383.33,902.5 384.28,879.3 385.23,849.4 386.18,812.0 387.13,756.1 388.08,713.1 389.03,666.7 389.99,583.8 390.94,514.5 391.89,468.5 392.84,426.7 393.79,407.2 394.80,399.6 395.69,403.0 396.65,412.4 397.60,430.6 398.55,459.0 399.50,488.5 400.45,541.7 401.40,585.6 402.36,639.1 403.31,700.3 404.26,752.8 405.21,787.3 406.16,807.0 407.11,818.9 408.06,828.1 409.02,836.7 409.97,846.1 410.92,859.1 411.87,872.6 412.82,923.0 413.77,956.3 414.73,978.6 415.68,995.1 416.10,999.0 416.63,997.4 417.58,990.9 418.53,980.3 419.48,965.8 420.43,947.8 421.39,926.7 422.34,898.7 423.29,855.1 424.24,810.1 425.19,764.1 426.14,703.8 427.09,629.6 428.05,558.4 429.00,504.4 429.95,466.7 430.90,429.6 431.85,409.8 432.86,402.1 433.75,405.8 434.71,416.3 435.66,436.2 436.61,467.3 437.56,501.3 438.51,558.4 439.46,605.7 440.42,668.3 441.37,739.3 442.32,783.0 443.27,822.2 444.22,832.5 445.17,840.3 446.12,847.5 447.08,854.3 448.03,861.2 448.98,868.3 449.93,876.8 450.88,889.4 451.83,910.0 452.78,955.7 453.74,1005.8 454.14,1010.8 454.69,1009.0 455.64,1002.6 456.59,992.2 457.54,978.2 458.49,960.6 459.45,940.0 460.40,912.3 461.35,868.7 462.30,823.6 463.25,777.6 464.20,717.3 465.15,643.1 466.11,571.9 467.06,517.9 468.01,480.2 468.96,443.1 469.91,423.3 470.92,415.6 471.81,419.3 472.77,430.5 473.72,451.4 474.67,480.6 475.62,523.7 476.57,570.6 477.52,626.5 478.48,670.6 479.43,733.7 480.38,798.1 481.33,832.5 482.28,849.6 483.23,856.3 484.18,858.8 485.14,861.1 486.09,867.0 487.04,887.9 487.99,912.7 488.94,935.2 489.89,958.0 490.85,982.6 491.80,1003.6 492.18,1009.0 492.75,1007.1 493.70,1000.7 494.65,990.6 495.60,977.0 496.55,960.0 497.51,939.8 498.46,912.4 499.41,868.7 500.36,823.6 501.31,777.6 502.26,717.3 503.21,643.1 504.17,571.9 505.12,517.9 506.07,480.2 507.02,443.1 507.97,423.3 508.98,415.6 509.88,419.3 510.83,430.5 511.78,451.5 512.73,480.9 513.68,524.1 514.63,571.4 515.58,627.6 516.54,672.1 517.49,735.3 518.44,800.4 519.39,835.4 520.34,852.8 521.29,859.7 522.24,862.2 523.20,864.4 524.15,869.9 525.10,890.6 526.05,915.9 527.00,938.7 527.95,961.9 528.90,986.8 529.86,1008.0 530.22,1013.0 530.81,1011.1 531.76,1004.6 532.71,994.4 533.66,980.5 534.61,963.3 535.57,942.9 536.52,915.4 537.47,871.7 538.42,826.6 539.37,780.6 540.32,720.3 541.27,646.1 542.23,574.9 543.18,520.9 544.13,483.2 545.08,446.1 546.03,426.3 547.04,418.6 547.93,422.3 548.89,433.5 549.84,454.4 550.79,483.8 551.74,526.7 552.69,574.2 553.64,630.3 554.60,674.8 555.55,737.7 556.50,803.0 557.45,838.5 558.40,856.1 559.35,863.0 560.30,865.6 561.26,867.7 562.21,872.8 563.16,893.3 564.11,918.9 565.06,941.9 566.01,965.3 566.96,990.4 568.26,1016.5 568.87,1014.4 569.82,1007.8 570.77,997.4 571.72,983.3 572.67,965.8 573.63,945.2 574.58,917.5 575.53,873.9 576.48,828.8 577.43,782.8 578.38,722.5 579.33,648.3 580.29,577.1 581.24,523.1 582.19,485.4 583.14,448.3 584.09,428.5 585.10,420.8 586.00,424.5 586.95,435.7 587.90,456.6 588.85,486.1 589.80,528.8 590.75,576.5 591.70,632.6 592.66,677.2 593.61,739.9 594.56,805.6 595.51,841.5 596.46,859.4 597.41,866.4 598.36,868.9 599.32,871.0 600.27,875.8 601.22,895.7 602.17,921.2 603.12,944.0 604.07,967.2 605.02,992.2 606.30,1017.5 606.93,1015.4 607.88,1008.4 608.83,997.0 609.78,981.5 610.73,962.5 611.69,940.5 612.64,911.9 613.59,868.5 614.54,823.6 615.49,777.6 616.44,717.3 617.39,643.1 618.35,571.9 619.30,517.9 620.25,480.2 621.20,443.1 622.15,423.3 623.16,415.6 624.06,419.4 625.01,430.7 625.96,452.0 626.91,482.0 627.86,525.2 628.81,573.9 629.76,631.0 630.72,676.5 631.67,740.0 632.62,807.1 633.57,844.1 634.52,862.6 635.47,869.8 636.42,872.3 637.38,874.3 638.33,878.8 639.28,897.9 640.23,923.2 641.18,945.7 642.13,968.7 643.09,993.4 644.34,1018.0 644.99,1015.8 645.94,1008.7 646.89,997.2 647.84,981.7 648.79,962.6 649.75,940.5 650.70,911.9 651.65,868.5 652.60,823.6 653.55,777.6 654.50,717.3 655.45,643.1 656.41,571.9 657.36,517.9 658.31,480.2 659.26,443.1 660.21,423.3 661.22,415.6 662.12,419.4 663.07,430.8 664.02,452.2 664.97,482.3 665.92,525.6 666.87,574.8 667.82,632.1 668.78,677.9 669.73,741.5 670.68,809.4 671.63,847.0 672.58,865.8 673.53,873.2 674.48,875.7 675.44,877.7 676.39,881.8 677.34,900.3 678.29,925.5 679.24,947.8 680.19,970.6 681.14,995.1 682.38,1019.2 683.05,1016.7 684.00,1009.6 684.95,997.9 685.90,982.2 686.85,962.8 687.81,940.5 688.76,911.9 689.71,868.5 690.66,823.6 691.61,777.6 692.56,717.3 693.51,643.1 694.47,571.9 695.42,517.9 696.37,480.2 697.32,443.1 698.27,423.3 699.28,415.6 700.17,419.4 701.13,430.9 702.08,452.3 703.03,482.7 703.98,526.0 704.93,575.6 705.88,633.2 706.84,679.4 707.79,743.1 708.74,811.6 709.69,849.9 710.64,869.0 711.59,876.6 712.54,879.1 713.50,881.0 714.45,884.9 715.40,902.9 716.35,928.2 717.30,950.6 718.25,973.4 719.20,998.0 720.42,1021.7 721.11,1019.1 722.06,1011.8 723.01,999.7 723.96,983.4 724.91,963.5 725.87,940.7 726.82,911.8 727.77,868.4 728.72,823.6 729.67,777.6 730.62,717.3 731.57,643.1 732.53,571.9 733.48,517.9 734.43,480.2 735.38,443.1 736.33,423.3 737.34,415.6 738.24,419.5 739.19,431.0 740.14,452.5 741.09,483.0 742.04,526.3 742.99,576.5 743.94,634.2 744.90,680.8 745.85,744.6 746.80,813.7 747.75,852.8 748.70,872.2 749.65,880.0 750.60,882.5 751.56,884.3 752.51,888.0 753.46,905.4 754.41,930.7 755.36,953.1 756.31,975.9 757.26,1000.5 758.46,1023.7 759.17,1021.0 760.12,1013.5 761.07,1001.1 762.02,984.4 762.97,964.1 763.93,940.8 764.88,911.7 765.83,868.4 766.78,823.6 767.73,777.6 768.68,717.3 769.63,643.1 770.59,571.9 771.54,517.9 772.49,480.2 773.44,443.1 774.39,423.3 775.40,415.6 776.30,419.5 777.25,431.0 778.20,452.6 779.15,483.4 780.10,526.7 781.05,577.3 782.00,635.3 782.96,682.3 783.91,746.1 784.86,815.9 785.81,855.6 786.76,875.4 787.71,883.4 788.66,885.9 789.62,887.7 790.57,891.2 791.52,907.8 792.47,933.2 793.42,955.5 794.37,978.3 795.33,1002.9 796.50,1025.5 797.23,1022.8 798.18,1015.1 799.13,1002.2 800.08,984.9 801.03,964.0 801.99,940.2 802.94,910.7 803.89,867.6 804.84,822.8 805.79,776.8 806.74,716.5 807.69,642.3 808.65,571.1 809.60,517.1 810.55,479.4 811.50,442.3 812.45,422.5 813.46,414.8 814.36,418.7 815.31,430.3 816.26,452.0 817.21,483.0 818.16,526.5 819.11,577.6 820.06,635.9 821.02,683.4 821.97,747.4 822.92,818.0 823.87,858.4 824.82,878.6 825.77,886.8 826.72,889.3 827.68,891.0 828.63,894.4 829.58,910.3 830.53,935.6 831.48,957.8 832.43,980.5 833.38,1004.9 834.54,1027.0 835.29,1024.2 836.24,1016.3 837.19,1002.9 838.14,985.1 839.09,963.7 840.05,939.4 841.00,909.6 841.95,866.5 842.90,821.8 843.85,775.8 844.80,715.5 845.75,641.3 846.71,570.1 847.66,516.1 848.61,478.4 849.56,441.3 850.51,421.5 851.52,413.8 852.41,417.7 853.37,429.4 854.32,451.3 855.27,482.5 856.22,526.1 857.17,577.8 858.12,636.4 859.08,684.4 860.03,748.6 860.98,819.9 861.93,861.2 862.88,881.8 863.83,890.2 864.78,892.7 865.74,894.4 866.69,897.6 867.64,912.8 868.59,938.2 869.54,960.4 870.49,983.1 871.45,1007.4 872.58,1029.2 873.35,1026.2 874.30,1018.0 875.25,1004.2 876.20,985.7 877.15,963.6 878.11,938.7 879.06,908.5 880.01,865.6 880.96,820.9 881.91,774.9 882.86,714.6 883.81,640.4 884.77,569.2 885.72,515.2 886.67,477.5 887.62,440.4 888.57,420.6 889.58,412.9 890.48,416.9 891.43,428.6 892.38,450.6 893.33,482.1 894.28,525.7 895.23,578.0 896.18,637.0 897.14,685.4 898.09,749.8 899.04,821.9 899.99,864.0 900.94,884.9 901.89,893.6 902.84,896.1 903.80,897.7 904.75,900.8 905.70,915.3 906.65,940.4 907.60,962.5 908.55,985.0 909.50,1009.1 910.62,1030.2 911.41,1027.2 912.36,1018.8 913.31,1004.6 914.26,985.7 915.21,963.2 916.17,937.9 917.12,907.6 918.07,864.6 919.02,820.0 919.97,774.0 920.92,713.7 921.87,639.5 922.83,568.3 923.78,514.3 924.73,476.6 925.68,439.5 926.63,419.7 927.64,411.9 928.53,416.0 929.49,427.8 930.44,449.9 931.39,481.7 932.34,525.4 933.29,578.2 934.24,637.5 935.20,686.4 936.15,751.0 937.10,823.9 938.05,866.7 939.00,888.1 939.95,897.0 940.90,899.5 941.86,901.1 942.81,904.0 943.76,917.8 944.71,942.9 945.66,964.9 946.61,987.3 947.57,1011.4 948.66,1032.0 949.47,1028.9 950.42,1023.8 951.37,1016.8 952.32,1006.7 953.27,987.4 954.23,944.1 955.18,903.1 956.13,862.7 957.08,819.6 958.03,773.6 958.98,713.3 959.93,639.1 960.89,567.9 961.84,513.9 962.79,476.2 963.74,439.1 964.69,419.3 965.70,411.6 966.60,415.6 967.55,427.5 968.50,449.7 969.45,481.6 970.40,525.5 971.35,578.8 972.30,638.3 973.26,687.7 974.21,752.4 975.16,825.9 976.11,869.5 977.06,891.3 978.01,900.4 978.96,902.9 979.92,904.4 980.87,907.2 981.82,920.4 982.77,945.4 983.72,967.3 984.67,989.7 985.62,1013.7 986.70,1033.8 987.53,1030.6 988.48,1025.0 989.43,1017.1 990.38,1005.7 991.33,985.5 992.29,942.4 993.24,901.5 994.19,861.1 995.14,818.0 996.09,772.0 997.04,711.7 997.99,637.5 998.95,566.3 999.90,512.3 1000.85,474.6 1001.80,437.5 1002.75,417.7 1003.76,409.9 1004.65,414.0 1005.61,426.0 1006.56,448.3 1007.51,480.6 1008.46,524.6 1009.41,578.5 1010.36,638.4 1011.32,688.4 1012.27,753.4 1013.22,827.7 1014.17,872.2 1015.12,894.4 1016.07,903.8 1017.02,906.3 1017.98,907.8 1018.93,910.4 1019.88,922.9 1020.83,947.9 1021.78,969.9 1022.73,992.2 1023.68,1016.3 1024.74,1036.0 1025.59,1032.6 1026.54,1026.6 1027.49,1017.8 1028.44,1005.4 1029.39,984.3 1030.35,941.4 1031.30,900.6 1032.25,860.2 1033.20,817.1 1034.15,771.1 1035.10,710.8 1036.05,636.6 1037.01,565.4 1037.96,511.4 1038.91,473.7 1039.86,436.6 1040.81,416.8 1041.82,409.1 1042.72,413.2 1043.67,425.2 1044.62,447.6 1045.57,480.2 1046.52,524.3 1047.47,578.7 1048.42,638.9 1049.38,689.4 1050.33,754.5 1051.28,829.6 1052.23,874.9 1053.18,897.5 1054.13,907.2 1055.08,909.7 1056.04,911.1 1056.99,913.7 1057.94,925.5 1058.89,950.2 1059.84,972.1 1060.79,994.3 1061.74,1018.1 1062.78,1037.2 1063.65,1033.8 1064.60,1027.4 1065.55,1018.0 1066.50,1004.9 1067.45,983.2 1068.41,940.5 1069.36,899.7 1070.31,859.3 1071.26,816.2 1072.21,770.2 1073.16,709.9 1074.11,635.7 1075.07,564.5 1076.02,510.5 1076.97,472.8 1077.92,435.7 1078.87,415.9 1079.88,408.1 1080.78,412.3 1081.73,424.4 1082.68,447.0 1083.63,479.7 1084.58,524.0 1085.53,578.9 1086.48,639.4 1087.44,690.5 1088.39,755.7 1089.34,831.5 1090.29,877.6 1091.24,900.7 1092.19,910.6 1093.14,913.2 1094.10,914.5 1095.05,916.9 1096.00,928.1 1096.95,952.7 1097.90,974.5 1098.85,996.6 1099.80,1020.4 1100.82,1039.0 1101.71,1035.5 1102.66,1028.6 1103.61,1018.3 1104.56,1004.0 1105.51,981.5 1106.47,939.0 1107.42,898.3 1108.37,857.9 1109.32,814.8 1110.27,768.8 1111.22,708.5 1112.17,634.3 1113.13,563.1 1114.08,509.1 1115.03,471.4 1115.98,434.3 1116.93,414.5 1117.94,406.8 1118.84,410.9 1119.79,423.1 1120.74,445.8 1121.69,478.9 1122.64,523.3 1123.59,578.8 1124.54,639.6 1125.50,691.3 1126.45,756.7 1127.40,833.3 1128.35,880.3 1129.30,903.8 1130.25,914.1 1131.20,916.6 1132.16,917.9 1133.11,920.2 1134.06,930.6 1135.01,955.0 1135.96,976.7 1136.91,998.6 1137.87,1022.2 1138.86,1040.2 1139.77,1036.6 1140.72,1029.3 1141.67,1018.3 1142.62,1003.3 1143.57,980.3 1144.53,937.8 1145.48,897.2 1146.43,856.8 1147.38,813.7 1148.33,767.7 1149.28,707.4 1150.23,633.2 1151.19,562.0 1152.14,508.0 1153.09,470.3 1154.04,433.2 1154.99,413.4 1156.00,405.6 1156.89,409.8 1157.85,422.1 1158.80,444.9 1159.75,478.2 1160.70,522.8 1161.65,578.9 1162.60,640.0 1163.56,692.2 1164.51,757.7 1165.46,835.1 1166.41,883.0 1167.36,906.9 1168.31,917.5 1169.26,920.0 1170.22,921.3 1171.17,923.4 1172.12,933.2 1173.07,957.4 1174.02,979.0 1174.97,1000.8 1175.92,1024.2 1176.90,1041.8 1177.83,1038.0 1178.78,1030.2 1179.73,1018.2 1180.68,1002.2 1181.63,978.4 1182.59,936.2 1183.54,895.6 1184.49,855.2 1185.44,812.1 1186.39,766.1 1187.34,705.8 1188.29,631.6 1189.25,560.4 1190.20,506.4 1191.15,468.7 1192.10,431.6 1193.05,411.8 1194.06,404.1 1194.95,408.3 1195.91,420.6 1196.86,443.6 1197.81,477.2 1198.76,521.9 1199.71,578.6 1200.66,640.0 1201.62,692.9 1202.57,758.6 1203.52,836.8 1204.47,885.6 1205.42,910.0 1206.37,920.9 1207.32,923.4 1208.28,924.6 1209.23,926.7 1210.18,935.8 1211.13,959.7 1212.08,981.1 1213.03,1002.8 1213.99,1026.0 1214.94,1043.0 1215.89,1039.0 1216.84,1030.8 1217.79,1018.1 1218.74,1001.1 1219.69,976.8 1220.65,934.7 1221.60,894.2 1222.55,853.8 1223.50,810.7 1224.45,764.7 1225.40,704.4 1226.35,630.2 1227.31,559.0 1228.26,505.0 1229.21,467.3 1230.16,430.2 1231.11,410.4 1232.12,402.6 1233.01,406.9 1233.97,419.3 1234.92,442.4 1235.87,476.3 1236.82,521.2 1237.77,578.4 1238.72,640.2 1239.68,693.6 1240.63,759.6 1241.58,838.5 1242.53,888.2 1243.48,913.1 1244.43,924.3 1245.38,926.8 1246.34,928.0 1247.29,930.0 1248.24,938.5 1249.19,962.1 1250.14,983.5 1251.09,1005.1 1252.05,1028.2 1252.98,1044.8 1253.95,1040.7 1254.90,1031.9 1255.85,1018.1 1256.80,1000.0 1257.75,975.0 1258.71,933.1 1259.66,892.6 1260.61,852.2 1261.56,809.1 1262.51,763.1 1263.46,702.8 1264.41,628.6 1265.37,557.4 1266.32,503.4 1267.27,465.7 1268.22,428.6 1269.17,408.8 1270.18,401.1 1271.08,405.3 1272.03,417.8 1272.98,441.1 1273.93,475.3 1274.88,520.3 1275.83,578.2 1276.78,640.2 1277.74,694.3 1278.69,760.4 1279.64,840.1 1280.59,890.8 1281.54,916.1 1282.49,927.7 1283.44,930.2 1284.40,931.4 1285.35,933.3 1286.30,941.2 1287.25,964.4 1288.20,985.7 1289.15,1007.0 1290.11,1029.9 1291.02,1045.8 1292.01,1041.7 1292.96,1032.3 1293.91,1017.6 1294.86,998.5 1295.81,972.8 1296.77,931.0 1297.72,890.6 1298.67,850.2 1299.62,807.1 1300.57,761.1 1301.52,700.8 1302.47,626.6 1303.43,555.4 1304.38,501.4 1305.33,463.7 1306.28,426.6 1307.23,406.8 1308.24,399.1 1309.13,403.4 1310.09,415.9 1311.04,439.4 1311.99,473.9 1312.94,519.1 1313.89,577.6 1314.84,640.0 1315.80,694.8 1316.75,761.1 1317.70,841.7 1318.65,893.4 1319.60,919.2 1320.55,931.1 1321.50,933.6 1322.46,934.8 1323.41,936.6 1324.36,943.9 1325.31,967.0 1326.26,988.3 1327.21,1009.7 1328.16,1032.6 1329.06,1048.2 1330.07,1043.8 1331.02,1033.7 1331.97,1017.8 1332.92,997.4 1333.87,970.9 1334.83,929.4 1335.78,889.0 1336.73,848.6 1337.68,805.5 1338.63,759.5 1339.58,699.2 1340.53,625.0 1341.49,553.8 1342.44,499.8 1343.39,462.1 1344.34,425.0 1345.29,405.2 1346.30,397.4 1347.19,401.8 1348.15,414.4 1349.10,438.0 1350.05,472.8 1351.00,518.2 1351.95,577.3 1352.90,640.0 1353.86,695.5 1354.81,762.0 1355.76,843.3 1356.71,896.0 1357.66,922.2 1358.61,934.5 1359.56,937.0 1360.52,938.2 1361.47,939.9 1362.42,946.6 1363.37,969.3 1364.32,990.5 1365.27,1011.6 1366.22,1034.2 1367.10,1049.2 1368.13,1044.7 1369.08,1034.0 1370.03,1017.3 1370.98,996.0 1371.93,968.9 1372.89,927.5 1373.84,887.2 1374.79,846.8 1375.74,803.7 1376.69,757.7 1377.64,697.4 1378.59,623.2 1379.55,552.0 1380.50,498.0 1381.45,460.3 1382.40,423.2 1383.35,403.4 1384.36,395.6 1385.26,400.0 1386.21,412.8 1387.16,436.5 1388.11,471.6 1389.06,517.2 1390.01,576.9 1390.96,639.9 1391.92,696.0 1392.87,762.7 1393.82,844.9 1394.77,898.5 1395.72,925.3 1396.67,937.9 1397.62,940.4 1398.58,941.6 1399.53,943.2 1400.48,949.4 1401.43,971.8 1402.38,992.9 1403.33,1014.0 1404.29,1036.5 1405.14,1051.0 1406.19,1046.3 1407.14,1034.9 1408.09,1017.0 1409.04,994.5 1409.99,966.7 1410.95,925.5 1411.90,885.2 1412.85,844.8 1413.80,801.7 1414.75,755.7 1415.70,695.4 1416.65,621.2 1417.61,550.0 1418.56,496.0 1419.51,458.3 1420.46,421.2 1421.41,401.4 1422.42,393.6 1423.32,398.1 1424.27,410.9 1425.22,434.8 1426.17,470.2 1427.12,515.9 1428.07,576.3 1429.02,639.7 1429.98,696.5 1430.93,763.4 1431.88,846.3 1432.83,901.0 1433.78,928.3 1434.73,941.3 1435.68,943.8 1436.64,945.0 1437.59,946.5 1438.54,952.2 1439.49,974.0 1440.44,994.9 1441.39,1015.7 1442.35,1038.0 1443.18,1052.0 1444.25,1047.1 1445.20,1035.1 1446.15,1016.3 1447.10,993.0 1448.05,964.7 1449.01,923.6 1449.96,883.4 1450.91,843.0 1451.86,799.9 1452.81,753.9 1453.76,693.6 1454.71,619.4 1455.67,548.2 1456.62,494.2 1457.57,456.5 1458.52,419.4 1459.47,399.6 1460.48,391.9 1461.38,396.3 1462.33,409.2 1463.28,433.2 1464.23,468.9 1465.18,514.9 1466.13,575.8 1467.08,639.5 1468.04,697.1 1468.99,764.1 1469.94,847.8 1470.89,903.5 1471.84,931.3 1472.79,944.7 1473.74,947.3 1474.70,948.4 1475.65,949.8 1476.60,955.0 1477.55,976.5 1478.50,997.5 1479.45,1018.3 1480.40,1040.5 1481.22,1054.0 1482.31,1048.9 1483.26,1036.1 1484.21,1016.0 1485.16,991.5 1486.11,962.4 1487.07,921.5 1488.02,881.3 1488.97,840.9 1489.92,797.8 1490.87,751.8 1491.82,691.5 1492.77,617.3 1493.73,546.1 1494.68,492.1 1495.63,454.4 1496.58,417.3 1497.53,397.5 1498.54,389.8 1499.43,394.2 1500.39,407.2 1501.34,431.4 1502.29,467.4 1503.24,513.6 1504.19,575.2 1505.14,639.2 1506.10,697.5 1507.05,764.8 1508.00,849.3 1508.95,906.0 1509.90,934.4 1510.85,948.1 1511.80,950.7 1512.76,951.8 1513.71,953.1 1514.66,957.9 1515.61,978.9 1516.56,999.8 1517.51,1020.3 1518.46,1042.3 1519.26,1055.3 1520.37,1050.0 1521.32,1036.3 1522.27,1015.0 1523.22,989.2 1524.17,959.5 1525.13,918.7 1526.08,878.6 1527.03,838.2 1527.98,795.1 1528.93,749.1 1529.88,688.8 1530.83,614.6 1531.79,543.4 1532.74,489.4 1533.69,451.7 1534.64,414.6 1535.59,394.8 1536.60,387.1 1537.49,391.6 1538.45,404.7 1539.40,429.0 1540.35,465.4 1541.30,511.8 1542.25,574.1 1543.20,638.5 1544.16,697.6 1545.11,765.2 1546.06,850.6 1547.01,908.4 1547.96,937.3 1548.91,951.6 1549.86,954.1 1550.82,955.2 1551.77,956.5 1552.72,960.7 1553.67,981.3 1554.62,1002.1 1555.57,1022.6 1556.53,1044.4 1557.30,1057.0 1558.43,1051.5 1559.38,1039.0 1560.33,1020.8 1561.28,990.8 1562.23,955.7 1563.19,916.3 1564.14,876.6 1565.09,836.2 1566.04,793.1 1566.99,747.1 1567.94,686.8 1568.89,612.6 1569.85,541.4 1570.80,487.4 1571.75,449.7 1572.70,412.6 1573.65,392.8 1574.66,385.1 1575.56,389.6 1576.51,402.8 1577.46,427.3 1578.41,464.0 1579.36,510.5 1580.31,573.5 1581.26,638.2 1582.22,698.0 1583.17,765.8 1584.12,852.0 1585.07,910.9 1586.02,940.3 1586.97,955.0 1587.92,957.5 1588.88,958.6 1589.83,959.8 1590.78,963.7 1591.73,983.8 1592.68,1004.5 1593.63,1024.8 1594.59,1046.4 1595.34,1058.5 1596.49,1052.7 1597.44,1038.2 1598.39,1018.0 1599.34,988.2 1600.29,953.2 1601.25,913.8 1602.20,874.1 1603.15,833.7 1604.10,790.6 1605.05,744.6 1606.00,684.3 1606.95,610.1 1607.91,538.9 1608.86,484.9 1609.81,447.2 1610.76,410.1 1611.71,390.3 1612.72,382.6 1613.62,387.2 1614.57,400.5 1615.52,425.3 1616.47,462.3 1617.42,509.4 1618.37,573.0 1619.32,638.4 1620.28,698.9 1621.23,767.4 1622.18,854.5 1623.13,914.1 1624.08,943.8 1625.03,958.6 1625.98,961.1 1626.94,962.2 1627.89,963.4 1628.84,967.3 1629.79,987.0 1630.74,1007.3 1631.69,1027.2 1632.64,1048.4 1633.38,1059.8 1634.55,1053.6 1635.50,1037.0 1636.45,1014.9 1637.40,985.1 1638.35,950.3 1639.31,910.9 1640.26,871.2 1641.21,830.8 1642.16,787.7 1643.11,741.7 1644.06,681.4 1645.01,607.2 1645.97,536.0 1646.92,482.0 1647.87,444.3 1648.82,407.2 1649.77,387.4 1650.78,379.6 1651.67,384.3 1652.63,397.8 1653.58,422.9 1654.53,460.3 1655.48,507.9 1656.43,572.3 1657.38,638.5 1658.34,699.6 1659.29,768.9 1660.24,857.0 1661.19,917.2 1662.14,947.3 1663.09,962.3 1664.04,964.8 1665.00,965.9 1665.95,967.1 1666.90,970.9 1667.85,990.4 1668.80,1010.4 1669.75,1030.1 1670.70,1051.0 1671.42,1062.0 1672.61,1055.2 1673.56,1036.2 1674.51,1011.9 1675.46,982.1 1676.41,947.5 1677.37,908.1 1678.32,868.4 1679.27,828.0 1680.22,784.9 1681.17,738.9 1682.12,678.6 1683.07,604.4 1684.03,533.2 1684.98,479.2 1685.93,441.5 1686.88,404.4 1687.83,384.6 1688.84,376.9 1689.73,381.6 1690.69,395.2 1691.64,420.5 1692.59,458.4 1693.54,506.6 1694.49,571.7 1695.44,638.5 1696.40,700.4 1697.35,770.4 1698.30,859.5 1699.25,920.4 1700.20,950.8 1701.15,965.9 1702.10,968.5 1703.06,969.5 1704.01,970.8 1704.96,974.6 1705.91,993.6 1706.86,1013.1 1707.81,1032.2 1708.77,1052.6 1709.46,1062.8 1710.67,1055.5 1711.62,1034.5 1712.57,1008.6 1713.52,978.9 1714.47,944.4 1715.43,905.0 1716.38,865.3 1717.33,824.9 1718.28,781.8 1719.23,735.8 1720.18,675.5 1721.13,601.3 1722.09,530.1 1723.04,476.1 1723.99,438.4 1724.94,401.3 1725.89,381.5 1726.90,373.8 1727.80,378.5 1728.75,392.3 1729.70,417.9 1730.65,456.3 1731.60,504.9 1732.55,570.8 1733.50,638.4 1734.46,701.0 1735.41,771.8 1736.36,861.9 1737.31,923.5 1738.26,954.3 1739.21,969.6 1740.16,972.1 1741.12,973.2 1742.07,974.5 1743.02,978.2 1743.97,996.9 1744.92,1016.1 1745.87,1034.9 1746.83,1054.9 1747.50,1064.7 1748.73,1056.8 1749.68,1033.8 1750.63,1006.4 1751.58,976.7 1752.53,942.3 1753.49,902.9 1754.44,863.2 1755.39,822.8 1756.34,779.7 1757.29,733.7 1758.24,673.4 1759.19,599.2 1760.15,528.0 1761.10,474.0 1762.05,436.3 1763.00,399.2 1763.95,379.4 1764.96,371.6 1765.86,376.5 1766.81,390.4 1767.76,416.3 1768.71,455.0 1769.66,504.1 1770.61,570.6 1771.56,638.9 1772.52,702.0 1773.47,773.6 1774.42,864.5 1775.37,926.8 1776.32,957.8 1777.27,973.3 1778.22,975.8 1779.18,976.9 1780.13,978.1 1781.08,981.9 1782.03,1000.2 1782.98,1018.9 1783.93,1037.3 1784.88,1056.9 1785.54,1066.0 1786.79,1057.5 1787.74,1032.3 1788.69,1003.1 1789.64,973.5 1790.59,939.2 1791.55,899.8 1792.50,860.1 1793.45,819.7 1794.40,776.6 1795.35,730.6 1796.30,670.3 1797.25,596.1 1798.21,524.9 1799.16,470.9 1800.11,433.2 1801.06,396.1 1802.01,376.3 1803.02,368.6 1803.91,373.4 1804.87,387.5 1805.82,413.7 1806.77,452.8 1807.72,502.5 1808.67,569.7 1809.62,638.8 1810.58,702.7 1811.53,775.0 1812.48,867.0 1813.43,929.9 1814.38,961.3 1815.33,976.9 1816.28,979.5 1817.24,980.6 1818.19,981.8 1819.14,985.5 1820.09,1003.6 1821.04,1022.0 1821.99,1040.2 1822.94,1059.3 1823.58,1068.0 1824.85,1058.7 1825.80,1030.9 1826.75,1000.0 1827.70,970.4 1828.65,936.2 1829.61,896.8 1830.56,857.1 1831.51,816.7 1832.46,773.6 1833.41,727.6 1834.36,667.3 1835.31,593.1 1836.27,521.9 1837.22,467.9 1838.17,430.2 1839.12,393.1 1840.07,373.3 1841.08,365.6 1841.97,370.5 1842.93,384.7 1843.88,411.2 1844.83,450.7 1845.78,501.0 1846.73,568.9 1847.68,638.8 1848.64,703.3 1849.59,776.4 1850.54,869.4 1851.49,933.0 1852.44,964.8 1853.39,980.6 1854.34,983.2 1855.30,984.2 1856.25,985.5 1857.20,989.2 1858.15,1006.8 1859.10,1024.6 1860.05,1042.4 1861.01,1061.0 1861.62,1069.1 1862.91,1059.1 1863.86,1029.3 1864.81,997.0 1865.76,967.4 1866.71,933.3 1867.67,893.9 1868.62,854.2 1869.57,813.8 1870.52,770.7 1871.47,724.7 1872.42,664.4 1873.37,590.2 1874.33,519.0 1875.28,465.0 1876.23,427.3 1877.18,390.2 1878.13,370.4 1879.14,362.6 1880.04,367.6 1880.99,382.0 1881.94,408.8 1882.89,448.7 1883.84,499.5 1884.79,568.2 1885.74,638.8 1886.70,704.0 1887.65,777.9 1888.60,871.9 1889.55,936.2 1890.50,968.3 1891.45,984.3 1892.40,986.8 1893.36,987.9 1894.31,989.1 1895.26,992.8 1896.21,1010.1 1897.16,1027.6 1898.11,1045.0 1899.07,1063.3 1899.66,1071.0 1900.02,1070.2 1900.97,1060.0 1901.92,1027.4 1902.87,993.2 1903.82,963.7 1904.77,929.7 1905.73,890.3 1906.68,850.6 1907.63,810.2 1908.58,767.1 1909.53,721.1 1910.48,660.8 1911.43,586.6 1912.39,515.4 1913.34,461.4 1914.29,423.7 1915.24,386.6 1916.19,366.8 1917.20,359.1 1918.10,364.1 1919.05,378.6 1920.00,405.7 1920.95,446.1 1921.90,497.5 1922.85,567.0 1923.80,638.4 1924.76,704.4 1925.71,779.2 1926.66,874.3 1927.61,939.3 1928.56,971.8 1929.51,987.9 1930.46,990.5 1931.42,991.6 1932.37,992.8 1933.32,996.5 1934.27,1013.4 1935.22,1030.6 1936.17,1047.7 1937.12,1065.5 1937.70,1072.8 1938.08,1072.0 1939.03,1060.8 1939.98,1025.6 1940.93,989.7 1941.88,960.2 1942.83,926.3 1943.79,886.9 1944.74,847.2 1945.69,806.8 1946.64,763.7 1947.59,717.7 1948.54,657.4 1949.49,583.2 1950.45,512.0 1951.40,458.0 1952.35,420.3 1953.30,383.2 1954.25,363.4 1955.26,355.6 1956.15,360.7 1957.11,375.4 1958.06,402.8 1959.01,443.7 1959.96,495.7 1960.91,566.0 1961.86,638.2 1962.82,704.9 1963.77,780.5 1964.72,876.7 1965.67,942.4 1966.62,975.3 1967.57,991.6 1968.52,994.2 1969.48,995.3 1970.43,996.5 1971.38,1000.1 1972.33,1016.8 1973.28,1033.7 1974.23,1050.5 1975.18,1068.1 1975.74,1074.8 1976.14,1074.0 1977.09,1061.9 1978.04,1024.1 1978.99,986.6 1979.94,957.1 1980.89,923.3 1981.85,883.9 1982.80,844.2 1983.75,803.8 1984.70,760.7 1985.65,714.7 1986.60,654.4 1987.55,580.2 1988.51,509.0 1989.46,455.0 1990.41,417.3 1991.36,380.2 1992.31,360.4 1993.32,352.6 1994.21,357.8 1995.17,372.6 1996.12,400.3 1997.07,441.6 1998.02,494.1 1998.97,565.2 1999.92,638.1 2000.88,705.6 2001.83,781.9 2002.78,879.1 2003.73,945.6 2004.68,978.8 2005.63,995.3 2006.58,997.8 2007.54,998.9 2008.49,1000.1 2009.44,1003.8 2010.39,1020.2 2011.34,1036.7 2012.29,1053.2 2013.24,1070.3 2013.78,1076.7 2014.20,1075.7 2015.15,1062.6 2016.10,1022.3 2017.05,983.4 2018.00,953.9 2018.95,920.2 2019.91,880.8 2020.86,841.1 2021.81,800.7 2022.76,757.6 2023.71,711.6 2024.66,651.3 2025.61,577.1 2026.57,505.9 2027.52,451.9 2028.47,414.2 2029.42,377.1 2030.37,357.3 2031.38,349.6 2032.28,354.8 2033.23,369.7 2034.18,397.7 2035.13,439.5 2036.08,492.5 2037.03,564.3 2037.98,638.0 2038.94,706.2 2039.89,783.4 2040.84,881.6 2041.79,948.7 2042.74,982.3 2043.69,998.9 2044.64,1001.5 2045.60,1002.6 2046.55,1003.8 2047.50,1007.4 2048.45,1023.4 2049.40,1039.5 2050.35,1055.7 2051.31,1072.3 2051.82,1078.2 2052.26,1077.2 2053.21,1063.0 2054.16,1019.9 2055.11,979.4 2056.06,949.9 2057.01,916.3 2057.97,876.9 2058.92,837.2 2059.87,796.8 2060.82,753.7 2061.77,707.7 2062.72,647.4 2063.67,573.2 2064.63,502.0 2065.58,448.0 2066.53,410.3 2067.48,373.2 2068.43,353.4 2069.44,345.6 2070.34,350.9 2071.29,366.1 2072.24,394.4 2073.19,436.6 2074.14,490.3 2075.09,562.9 2076.04,637.5 2077.00,706.4 2077.95,784.5 2078.90,883.9 2079.85,951.8 2080.80,985.7 2081.75,1002.6 2082.70,1005.2 2083.66,1006.3 2084.61,1007.5 2085.56,1011.1 2086.51,1027.0 2087.46,1042.9 2088.41,1058.9 2089.36,1075.4 2089.86,1081.0 2090.32,1079.8 2091.27,1064.3 2092.22,1018.3 2093.17,976.0 2094.12,946.7 2095.07,913.1 2096.03,873.7 2096.98,834.0 2097.93,793.6 2098.88,750.5 2099.83,704.5 2100.78,644.2 2101.73,570.0 2102.69,498.8 2103.64,444.8 2104.59,407.1 2105.54,370.0 2106.49,350.2 2107.50,342.4 2108.39,347.8 2109.35,363.1 2110.30,391.7 2111.25,434.4 2112.20,488.6 2113.15,562.0 2114.10,637.3 2115.06,707.0 2116.01,785.9 2116.96,886.3 2117.91,954.9 2118.86,989.2 2119.81,1006.3 2120.76,1008.9 2121.72,1009.9 2122.67,1011.2 2123.62,1014.7 2124.57,1030.1 2125.52,1045.6 2126.47,1061.2 2127.43,1077.1 2127.90,1082.2 2128.38,1081.1 2129.33,1064.5 2130.28,1016.4 2131.23,973.1 2132.18,943.7 2133.13,910.2 2134.09,870.8 2135.04,831.1 2135.99,790.7 2136.94,747.6 2137.89,701.6 2138.84,641.3 2139.79,567.1 2140.75,495.9 2141.70,441.9 2142.65,404.2 2143.60,367.1 2144.55,347.3 2145.56,339.6 2146.45,344.9 2147.41,360.4 2148.36,389.3 2149.31,432.4 2150.26,487.2 2151.21,561.2 2152.16,637.4 2153.12,707.7 2154.07,787.4 2155.02,888.8 2155.97,958.1 2156.92,992.7 2157.87,1009.9 2158.82,1012.5 2159.78,1013.6 2160.73,1014.8 2161.68,1018.4 2162.63,1033.6 2163.58,1048.9 2164.53,1064.3 2165.48,1079.9 2165.94,1084.8 2166.44,1083.5 2167.39,1065.5 2168.34,1014.6 2169.29,969.7 2170.24,940.4 2171.19,906.9 2172.15,867.5 2173.10,827.8 2174.05,787.4 2175.00,744.3"/>
</g>
<text class="tick" x="239.4" y="79.7" text-anchor="end">2.0</text>
<text class="tick" x="239.4" y="591.0" text-anchor="end">1.6</text>
<text class="tick" x="239.4" y="1102.4" text-anchor="end">1.2</text>
<text class="tick" x="239.4" y="1613.7" text-anchor="end">0.8</text>
<text class="tick" x="271.1" y="1683.6" text-anchor="middle">0</text>
<text class="tick" x="1222.6" y="1683.6" text-anchor="middle">100</text>
<text class="tick" x="2174.1" y="1683.6" text-anchor="middle">200</text>
<text class="ttl" x="1223.8" y="1793.1" text-anchor="middle">t(μs)</text>
<text class="yttl" transform="translate(84.2,824.3) rotate(-90)" text-anchor="middle">V/V<tspan font-size="64" dy="25.5">0</tspan></text>
<line x1="337" y1="132.5" x2="455.5" y2="132.5" stroke="#0000ff" stroke-width="11.5" stroke-linecap="round" shape-rendering="crispEdges"/>
<text class="leg" x="489.9" y="154.1">250 kHz and 50 kPa</text>
<line x1="337" y1="220.5" x2="455.5" y2="220.5" stroke="#000000" stroke-width="11.5" stroke-linecap="round" shape-rendering="crispEdges"/>
<text class="leg" x="489.9" y="242.1">500 kHz and 50 kPa</text>
<line x1="337" y1="308.5" x2="455.5" y2="308.5" stroke="#ff0000" stroke-width="11.5" stroke-linecap="round" shape-rendering="crispEdges"/>
<text class="leg" x="489.9" y="330.1">250 kHz and 100 kPa</text>
</svg>
</body></html>
